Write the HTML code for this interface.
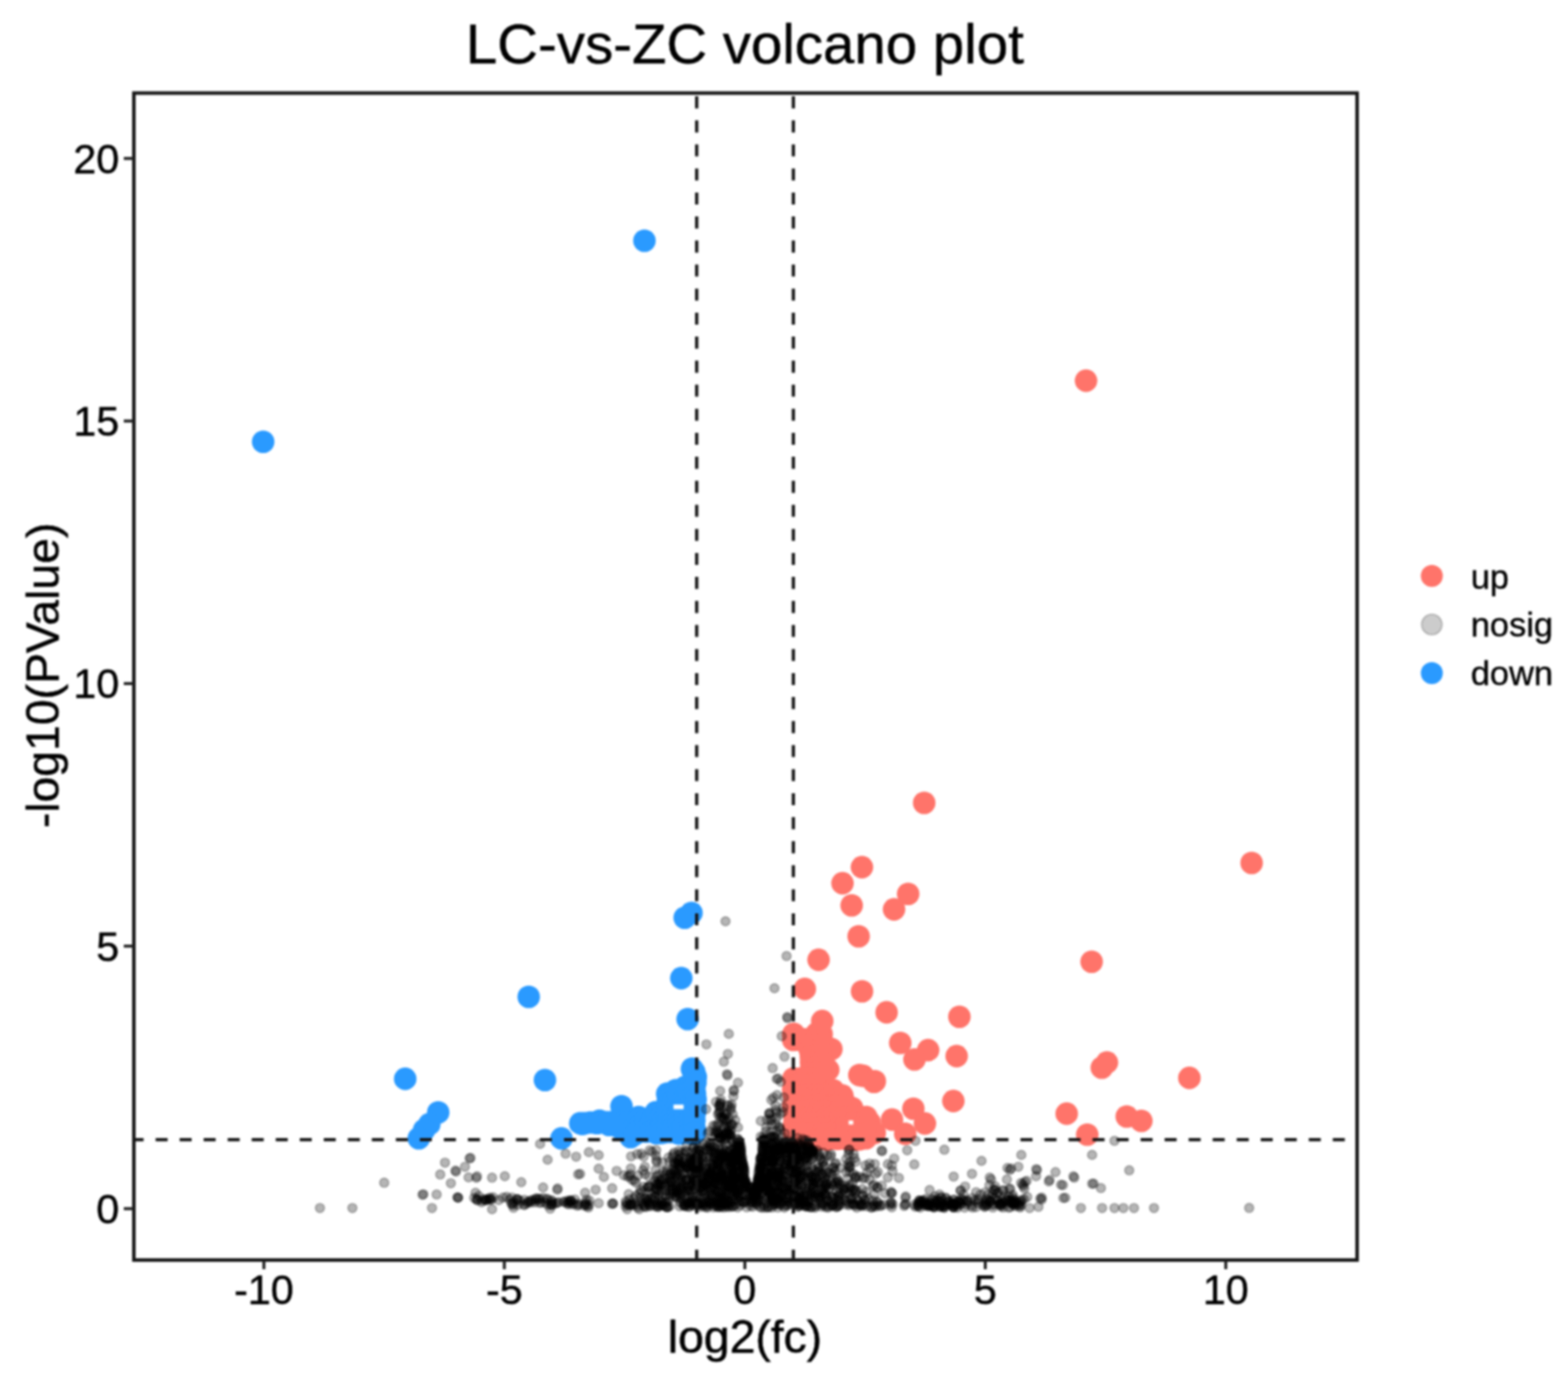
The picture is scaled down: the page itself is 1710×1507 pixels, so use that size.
<!DOCTYPE html>
<html><head><meta charset="utf-8"><title>LC-vs-ZC volcano plot</title>
<style>
html,body{margin:0;padding:0;background:#fff;}
body{width:1710px;height:1507px;overflow:hidden;font-family:"Liberation Sans",Arial,Helvetica,sans-serif;}
svg{display:block;font-family:"Liberation Sans",Arial,Helvetica,sans-serif;}
#w{filter:blur(0.8px);width:1710px;height:1507px;}
</style></head><body>
<div id="w"><svg width="1710" height="1507" viewBox="0 0 1710 1507"><rect width="1710" height="1507" fill="#fff"/><text x="812.3" y="69.3" text-anchor="middle" font-size="61.5" fill="#000" stroke="#000" stroke-width="0.5">LC-vs-ZC volcano plot</text><g fill="#FF746A"><circle cx="1184.4" cy="415.1" r="12.3"/><circle cx="1365.0" cy="941.0" r="12.3"/><circle cx="1007.9" cy="875.5" r="12.3"/><circle cx="940.0" cy="945.6" r="12.3"/><circle cx="918.8" cy="963.1" r="12.3"/><circle cx="928.8" cy="987.2" r="12.3"/><circle cx="990.4" cy="974.8" r="12.3"/><circle cx="975.0" cy="991.6" r="12.3"/><circle cx="936.4" cy="1021.0" r="12.3"/><circle cx="892.7" cy="1046.6" r="12.3"/><circle cx="877.7" cy="1078.4" r="12.3"/><circle cx="940.1" cy="1081.0" r="12.3"/><circle cx="1190.5" cy="1048.7" r="12.3"/><circle cx="896.7" cy="1113.4" r="12.3"/><circle cx="966.9" cy="1103.9" r="12.3"/><circle cx="1046.3" cy="1108.7" r="12.3"/><circle cx="981.8" cy="1137.3" r="12.3"/><circle cx="1012.2" cy="1145.1" r="12.3"/><circle cx="997.3" cy="1155.2" r="12.3"/><circle cx="1043.3" cy="1151.6" r="12.3"/><circle cx="953.1" cy="1179.7" r="12.3"/><circle cx="941.2" cy="1173.1" r="12.3"/><circle cx="1039.7" cy="1200.6" r="12.3"/><circle cx="996.1" cy="1209.0" r="12.3"/><circle cx="1008.7" cy="1225.1" r="12.3"/><circle cx="972.8" cy="1220.9" r="12.3"/><circle cx="987.2" cy="1236.4" r="12.3"/><circle cx="948.4" cy="1228.1" r="12.3"/><circle cx="904.6" cy="1143.3" r="12.3"/><circle cx="885.0" cy="1139.8" r="12.3"/><circle cx="866.0" cy="1128.6" r="12.3"/><circle cx="901.8" cy="1166.5" r="12.3"/><circle cx="866.0" cy="1177.0" r="12.3"/><circle cx="918.0" cy="1196.0" r="12.3"/><circle cx="929.3" cy="1208.3" r="12.3"/><circle cx="948.5" cy="1224.0" r="12.3"/><circle cx="954.0" cy="1235.4" r="12.3"/><circle cx="918.6" cy="1194.6" r="12.3"/><circle cx="928.4" cy="1208.6" r="12.3"/><circle cx="937.2" cy="1172.2" r="12.3"/><circle cx="954.1" cy="1179.0" r="12.3"/><circle cx="1201.6" cy="1164.2" r="12.3"/><circle cx="1207.2" cy="1158.6" r="12.3"/><circle cx="1297.1" cy="1175.4" r="12.3"/><circle cx="1163.3" cy="1214.4" r="12.3"/><circle cx="1185.7" cy="1237.2" r="12.3"/><circle cx="1228.8" cy="1217.5" r="12.3"/><circle cx="1244.7" cy="1222.2" r="12.3"/><circle cx="906.7" cy="1144.0" r="12.3"/><circle cx="903.3" cy="1166.6" r="12.3"/><circle cx="865.0" cy="1128.2" r="12.3"/><circle cx="865.6" cy="1127.3" r="12.3"/><circle cx="890.3" cy="1127.1" r="12.3"/><circle cx="896.1" cy="1127.7" r="12.3"/><circle cx="865.1" cy="1134.0" r="12.3"/><circle cx="871.1" cy="1133.9" r="12.3"/><circle cx="877.1" cy="1133.2" r="12.3"/><circle cx="883.8" cy="1134.7" r="12.3"/><circle cx="889.2" cy="1133.4" r="12.3"/><circle cx="896.3" cy="1134.9" r="12.3"/><circle cx="884.2" cy="1139.8" r="12.3"/><circle cx="891.0" cy="1139.1" r="12.3"/><circle cx="896.7" cy="1139.6" r="12.3"/><circle cx="883.3" cy="1145.2" r="12.3"/><circle cx="889.6" cy="1146.6" r="12.3"/><circle cx="895.4" cy="1146.2" r="12.3"/><circle cx="884.3" cy="1151.7" r="12.3"/><circle cx="890.1" cy="1151.1" r="12.3"/><circle cx="895.1" cy="1151.4" r="12.3"/><circle cx="884.4" cy="1157.9" r="12.3"/><circle cx="889.6" cy="1158.2" r="12.3"/><circle cx="895.9" cy="1157.6" r="12.3"/><circle cx="884.6" cy="1164.4" r="12.3"/><circle cx="889.5" cy="1164.1" r="12.3"/><circle cx="896.1" cy="1164.8" r="12.3"/><circle cx="884.5" cy="1169.6" r="12.3"/><circle cx="891.0" cy="1169.2" r="12.3"/><circle cx="895.8" cy="1170.5" r="12.3"/><circle cx="865.3" cy="1176.0" r="12.3"/><circle cx="871.1" cy="1176.3" r="12.3"/><circle cx="878.5" cy="1176.1" r="12.3"/><circle cx="884.8" cy="1175.6" r="12.3"/><circle cx="890.4" cy="1176.2" r="12.3"/><circle cx="896.2" cy="1175.9" r="12.3"/><circle cx="866.7" cy="1182.9" r="12.3"/><circle cx="871.9" cy="1182.3" r="12.3"/><circle cx="877.1" cy="1182.4" r="12.3"/><circle cx="884.3" cy="1183.0" r="12.3"/><circle cx="890.6" cy="1181.6" r="12.3"/><circle cx="895.8" cy="1182.3" r="12.3"/><circle cx="865.0" cy="1187.9" r="12.3"/><circle cx="871.3" cy="1187.2" r="12.3"/><circle cx="877.1" cy="1188.5" r="12.3"/><circle cx="883.3" cy="1187.5" r="12.3"/><circle cx="889.8" cy="1188.7" r="12.3"/><circle cx="895.2" cy="1187.9" r="12.3"/><circle cx="902.1" cy="1188.8" r="12.3"/><circle cx="908.6" cy="1188.7" r="12.3"/><circle cx="865.6" cy="1193.8" r="12.3"/><circle cx="871.7" cy="1194.8" r="12.3"/><circle cx="878.9" cy="1193.3" r="12.3"/><circle cx="883.4" cy="1193.5" r="12.3"/><circle cx="889.5" cy="1194.0" r="12.3"/><circle cx="896.2" cy="1193.5" r="12.3"/><circle cx="901.0" cy="1193.8" r="12.3"/><circle cx="907.7" cy="1194.1" r="12.3"/><circle cx="866.9" cy="1200.4" r="12.3"/><circle cx="872.0" cy="1200.2" r="12.3"/><circle cx="878.4" cy="1199.1" r="12.3"/><circle cx="884.8" cy="1200.6" r="12.3"/><circle cx="890.7" cy="1200.6" r="12.3"/><circle cx="895.8" cy="1199.8" r="12.3"/><circle cx="901.2" cy="1200.3" r="12.3"/><circle cx="907.1" cy="1199.1" r="12.3"/><circle cx="913.4" cy="1199.3" r="12.3"/><circle cx="919.7" cy="1199.1" r="12.3"/><circle cx="865.0" cy="1205.3" r="12.3"/><circle cx="871.2" cy="1205.7" r="12.3"/><circle cx="877.1" cy="1206.7" r="12.3"/><circle cx="884.2" cy="1205.3" r="12.3"/><circle cx="889.5" cy="1205.7" r="12.3"/><circle cx="895.7" cy="1205.2" r="12.3"/><circle cx="902.7" cy="1207.0" r="12.3"/><circle cx="907.9" cy="1206.0" r="12.3"/><circle cx="913.2" cy="1205.2" r="12.3"/><circle cx="919.7" cy="1205.5" r="12.3"/><circle cx="866.7" cy="1211.3" r="12.3"/><circle cx="871.0" cy="1212.9" r="12.3"/><circle cx="878.1" cy="1211.3" r="12.3"/><circle cx="884.1" cy="1211.1" r="12.3"/><circle cx="890.1" cy="1213.0" r="12.3"/><circle cx="896.7" cy="1212.4" r="12.3"/><circle cx="901.5" cy="1211.7" r="12.3"/><circle cx="907.3" cy="1212.5" r="12.3"/><circle cx="914.1" cy="1212.6" r="12.3"/><circle cx="919.7" cy="1211.4" r="12.3"/><circle cx="866.6" cy="1219.0" r="12.3"/><circle cx="872.7" cy="1218.6" r="12.3"/><circle cx="878.6" cy="1218.5" r="12.3"/><circle cx="883.5" cy="1218.0" r="12.3"/><circle cx="889.7" cy="1217.1" r="12.3"/><circle cx="895.1" cy="1217.6" r="12.3"/><circle cx="901.5" cy="1218.4" r="12.3"/><circle cx="908.9" cy="1217.9" r="12.3"/><circle cx="914.9" cy="1219.0" r="12.3"/><circle cx="920.9" cy="1217.7" r="12.3"/><circle cx="925.4" cy="1217.5" r="12.3"/><circle cx="931.4" cy="1217.4" r="12.3"/><circle cx="938.2" cy="1218.8" r="12.3"/><circle cx="944.7" cy="1218.0" r="12.3"/><circle cx="866.3" cy="1224.6" r="12.3"/><circle cx="871.2" cy="1224.3" r="12.3"/><circle cx="878.8" cy="1224.6" r="12.3"/><circle cx="884.5" cy="1224.0" r="12.3"/><circle cx="889.4" cy="1224.6" r="12.3"/><circle cx="895.7" cy="1224.6" r="12.3"/><circle cx="902.9" cy="1223.8" r="12.3"/><circle cx="907.8" cy="1224.9" r="12.3"/><circle cx="914.4" cy="1223.3" r="12.3"/><circle cx="919.3" cy="1223.3" r="12.3"/><circle cx="926.8" cy="1224.6" r="12.3"/><circle cx="931.3" cy="1224.7" r="12.3"/><circle cx="939.0" cy="1224.3" r="12.3"/><circle cx="943.7" cy="1224.1" r="12.3"/><circle cx="865.3" cy="1229.0" r="12.3"/><circle cx="872.9" cy="1230.3" r="12.3"/><circle cx="878.1" cy="1230.9" r="12.3"/><circle cx="883.9" cy="1230.7" r="12.3"/><circle cx="890.7" cy="1229.4" r="12.3"/><circle cx="895.5" cy="1229.6" r="12.3"/><circle cx="901.5" cy="1230.2" r="12.3"/><circle cx="907.5" cy="1229.8" r="12.3"/><circle cx="913.3" cy="1230.8" r="12.3"/><circle cx="919.7" cy="1229.9" r="12.3"/><circle cx="926.2" cy="1230.8" r="12.3"/><circle cx="931.8" cy="1230.8" r="12.3"/><circle cx="938.0" cy="1230.1" r="12.3"/><circle cx="944.0" cy="1229.0" r="12.3"/><circle cx="865.9" cy="1235.4" r="12.3"/><circle cx="871.0" cy="1236.6" r="12.3"/><circle cx="877.3" cy="1235.9" r="12.3"/><circle cx="884.5" cy="1236.1" r="12.3"/><circle cx="889.7" cy="1236.0" r="12.3"/><circle cx="896.1" cy="1236.6" r="12.3"/><circle cx="901.2" cy="1236.1" r="12.3"/><circle cx="907.5" cy="1235.6" r="12.3"/><circle cx="914.5" cy="1236.0" r="12.3"/><circle cx="920.1" cy="1236.5" r="12.3"/><circle cx="926.8" cy="1235.9" r="12.3"/><circle cx="932.2" cy="1236.0" r="12.3"/><circle cx="938.0" cy="1236.4" r="12.3"/><circle cx="943.9" cy="1236.1" r="12.3"/><circle cx="884.0" cy="1242.9" r="12.3"/><circle cx="890.4" cy="1242.8" r="12.3"/><circle cx="896.9" cy="1241.5" r="12.3"/><circle cx="902.1" cy="1242.9" r="12.3"/><circle cx="908.7" cy="1241.3" r="12.3"/><circle cx="913.2" cy="1241.9" r="12.3"/><circle cx="919.1" cy="1241.5" r="12.3"/><circle cx="925.1" cy="1242.3" r="12.3"/><circle cx="932.6" cy="1242.8" r="12.3"/><circle cx="937.3" cy="1242.4" r="12.3"/><circle cx="944.3" cy="1241.3" r="12.3"/></g><g fill="#2A9AFF"><circle cx="287.0" cy="481.8" r="12.3"/><circle cx="702.8" cy="262.5" r="12.3"/><circle cx="746.7" cy="1000.8" r="12.3"/><circle cx="754.1" cy="995.5" r="12.3"/><circle cx="743.0" cy="1066.6" r="12.3"/><circle cx="749.9" cy="1111.2" r="12.3"/><circle cx="576.6" cy="1087.0" r="12.3"/><circle cx="441.9" cy="1176.4" r="12.3"/><circle cx="594.3" cy="1177.7" r="12.3"/><circle cx="477.9" cy="1213.0" r="12.3"/><circle cx="468.2" cy="1225.9" r="12.3"/><circle cx="462.5" cy="1232.3" r="12.3"/><circle cx="456.7" cy="1241.3" r="12.3"/><circle cx="612.3" cy="1241.4" r="12.3"/><circle cx="635.1" cy="1225.6" r="12.3"/><circle cx="653.8" cy="1222.1" r="12.3"/><circle cx="677.8" cy="1206.3" r="12.3"/><circle cx="664.3" cy="1226.8" r="12.3"/><circle cx="687.7" cy="1240.0" r="12.3"/><circle cx="696.5" cy="1218.0" r="12.3"/><circle cx="676.0" cy="1229.7" r="12.3"/><circle cx="690.6" cy="1235.6" r="12.3"/><circle cx="755.0" cy="1166.5" r="12.3"/><circle cx="736.5" cy="1190.6" r="12.3"/><circle cx="747.6" cy="1185.0" r="12.3"/><circle cx="699.3" cy="1220.4" r="12.3"/><circle cx="713.6" cy="1233.6" r="12.3"/><circle cx="732.3" cy="1228.9" r="12.3"/><circle cx="746.3" cy="1224.2" r="12.3"/><circle cx="751.0" cy="1235.0" r="12.3"/><circle cx="741.6" cy="1236.0" r="12.3"/><circle cx="723.0" cy="1235.0" r="12.3"/><circle cx="737.0" cy="1188.7" r="12.3"/><circle cx="754.7" cy="1165.3" r="12.3"/><circle cx="705.0" cy="1234.0" r="12.3"/><circle cx="700.0" cy="1230.0" r="12.3"/><circle cx="632.8" cy="1224.9" r="12.3"/><circle cx="637.4" cy="1224.9" r="12.3"/><circle cx="643.8" cy="1224.0" r="12.3"/><circle cx="651.0" cy="1224.7" r="12.3"/><circle cx="655.3" cy="1223.9" r="12.3"/><circle cx="662.0" cy="1223.7" r="12.3"/><circle cx="667.4" cy="1223.6" r="12.3"/><circle cx="674.4" cy="1223.0" r="12.3"/><circle cx="680.1" cy="1223.9" r="12.3"/><circle cx="685.0" cy="1223.7" r="12.3"/><circle cx="692.2" cy="1224.0" r="12.3"/><circle cx="691.1" cy="1231.0" r="12.3"/><circle cx="692.6" cy="1236.9" r="12.3"/><circle cx="697.2" cy="1220.5" r="12.3"/><circle cx="697.1" cy="1227.6" r="12.3"/><circle cx="697.5" cy="1232.3" r="12.3"/><circle cx="703.8" cy="1221.8" r="12.3"/><circle cx="704.6" cy="1226.5" r="12.3"/><circle cx="703.3" cy="1233.8" r="12.3"/><circle cx="710.1" cy="1221.4" r="12.3"/><circle cx="709.2" cy="1226.1" r="12.3"/><circle cx="710.4" cy="1232.9" r="12.3"/><circle cx="715.1" cy="1212.9" r="12.3"/><circle cx="716.3" cy="1218.6" r="12.3"/><circle cx="715.2" cy="1224.7" r="12.3"/><circle cx="715.1" cy="1230.7" r="12.3"/><circle cx="715.9" cy="1235.7" r="12.3"/><circle cx="722.1" cy="1212.9" r="12.3"/><circle cx="721.5" cy="1217.3" r="12.3"/><circle cx="722.1" cy="1223.5" r="12.3"/><circle cx="721.2" cy="1229.3" r="12.3"/><circle cx="721.1" cy="1235.4" r="12.3"/><circle cx="727.6" cy="1192.6" r="12.3"/><circle cx="728.5" cy="1198.6" r="12.3"/><circle cx="728.0" cy="1204.4" r="12.3"/><circle cx="727.7" cy="1210.0" r="12.3"/><circle cx="727.5" cy="1216.0" r="12.3"/><circle cx="728.5" cy="1223.1" r="12.3"/><circle cx="727.4" cy="1228.9" r="12.3"/><circle cx="728.9" cy="1234.2" r="12.3"/><circle cx="734.6" cy="1192.9" r="12.3"/><circle cx="734.0" cy="1199.7" r="12.3"/><circle cx="733.8" cy="1205.0" r="12.3"/><circle cx="734.4" cy="1212.0" r="12.3"/><circle cx="733.7" cy="1217.7" r="12.3"/><circle cx="734.4" cy="1223.3" r="12.3"/><circle cx="733.8" cy="1228.7" r="12.3"/><circle cx="733.1" cy="1234.3" r="12.3"/><circle cx="739.1" cy="1193.5" r="12.3"/><circle cx="739.5" cy="1198.3" r="12.3"/><circle cx="739.2" cy="1205.7" r="12.3"/><circle cx="740.7" cy="1211.3" r="12.3"/><circle cx="739.6" cy="1216.5" r="12.3"/><circle cx="739.6" cy="1222.9" r="12.3"/><circle cx="739.3" cy="1228.9" r="12.3"/><circle cx="739.5" cy="1235.9" r="12.3"/><circle cx="746.9" cy="1193.1" r="12.3"/><circle cx="745.5" cy="1199.9" r="12.3"/><circle cx="745.6" cy="1204.7" r="12.3"/><circle cx="745.0" cy="1210.8" r="12.3"/><circle cx="745.9" cy="1217.0" r="12.3"/><circle cx="745.4" cy="1223.0" r="12.3"/><circle cx="745.0" cy="1228.5" r="12.3"/><circle cx="745.2" cy="1234.8" r="12.3"/><circle cx="751.1" cy="1192.0" r="12.3"/><circle cx="751.6" cy="1198.5" r="12.3"/><circle cx="752.2" cy="1205.1" r="12.3"/><circle cx="752.5" cy="1211.3" r="12.3"/><circle cx="752.4" cy="1217.8" r="12.3"/><circle cx="751.8" cy="1222.7" r="12.3"/><circle cx="753.0" cy="1228.3" r="12.3"/><circle cx="752.4" cy="1235.3" r="12.3"/><circle cx="757.1" cy="1168.7" r="12.3"/><circle cx="758.8" cy="1174.3" r="12.3"/><circle cx="758.5" cy="1180.6" r="12.3"/><circle cx="757.3" cy="1186.0" r="12.3"/><circle cx="758.0" cy="1192.7" r="12.3"/><circle cx="758.6" cy="1198.7" r="12.3"/><circle cx="758.2" cy="1204.8" r="12.3"/><circle cx="758.4" cy="1210.4" r="12.3"/><circle cx="757.5" cy="1215.1" r="12.3"/><circle cx="757.3" cy="1221.7" r="12.3"/><circle cx="757.2" cy="1228.7" r="12.3"/><circle cx="758.1" cy="1234.3" r="12.3"/><circle cx="757.0" cy="1236.0" r="12.3"/></g><g fill="#000" fill-opacity="0.29" stroke="#000" stroke-opacity="0.29" stroke-width="1.4"><circle cx="791.2" cy="1004.6" r="4.9"/><circle cx="857.8" cy="1042.5" r="4.9"/><circle cx="844.6" cy="1077.6" r="4.9"/><circle cx="858.8" cy="1110.2" r="4.9"/><circle cx="794.8" cy="1127.4" r="4.9"/><circle cx="770.4" cy="1138.8" r="4.9"/><circle cx="793.8" cy="1149.3" r="4.9"/><circle cx="789.4" cy="1157.7" r="4.9"/><circle cx="793.4" cy="1172.7" r="4.9"/><circle cx="792.8" cy="1171.3" r="4.9"/><circle cx="804.8" cy="1180.6" r="4.9"/><circle cx="800.4" cy="1189.9" r="4.9"/><circle cx="800.1" cy="1188.6" r="4.9"/><circle cx="785.4" cy="1189.6" r="4.9"/><circle cx="799.8" cy="1195.5" r="4.9"/><circle cx="780.9" cy="1201.5" r="4.9"/><circle cx="797.8" cy="1204.5" r="4.9"/><circle cx="789.3" cy="1219.9" r="4.9"/><circle cx="789.3" cy="1218.9" r="4.9"/><circle cx="777.9" cy="1227.4" r="4.9"/><circle cx="801.8" cy="1221.4" r="4.9"/><circle cx="804.8" cy="1229.4" r="4.9"/><circle cx="792.8" cy="1234.3" r="4.9"/><circle cx="770.0" cy="1209.5" r="4.9"/><circle cx="784.8" cy="1239.1" r="4.9"/><circle cx="783.9" cy="1237.4" r="4.9"/><circle cx="772.0" cy="1236.0" r="4.9"/><circle cx="858.5" cy="1109.0" r="4.9"/><circle cx="852.5" cy="1129.9" r="4.9"/><circle cx="855.5" cy="1152.2" r="4.9"/><circle cx="842.6" cy="1164.7" r="4.9"/><circle cx="848.5" cy="1176.1" r="4.9"/><circle cx="847.0" cy="1176.6" r="4.9"/><circle cx="851.5" cy="1179.6" r="4.9"/><circle cx="845.6" cy="1205.5" r="4.9"/><circle cx="854.5" cy="1207.5" r="4.9"/><circle cx="838.7" cy="1214.0" r="4.9"/><circle cx="839.2" cy="1215.2" r="4.9"/><circle cx="829.7" cy="1222.4" r="4.9"/><circle cx="846.6" cy="1219.4" r="4.9"/><circle cx="835.6" cy="1229.4" r="4.9"/><circle cx="849.6" cy="1229.4" r="4.9"/><circle cx="829.7" cy="1239.3" r="4.9"/><circle cx="842.8" cy="1239.5" r="4.9"/><circle cx="841.3" cy="1239.1" r="4.9"/><circle cx="856.0" cy="1236.0" r="4.9"/><circle cx="348.9" cy="1317.3" r="4.9"/><circle cx="384.3" cy="1317.3" r="4.9"/><circle cx="419.0" cy="1289.7" r="4.9"/><circle cx="485.3" cy="1267.8" r="4.9"/><circle cx="512.0" cy="1263.1" r="4.9"/><circle cx="513.2" cy="1262.7" r="4.9"/><circle cx="480.1" cy="1280.7" r="4.9"/><circle cx="497.3" cy="1277.6" r="4.9"/><circle cx="496.7" cy="1276.4" r="4.9"/><circle cx="507.1" cy="1272.3" r="4.9"/><circle cx="491.7" cy="1290.3" r="4.9"/><circle cx="511.0" cy="1283.9" r="4.9"/><circle cx="461.8" cy="1302.3" r="4.9"/><circle cx="460.7" cy="1302.8" r="4.9"/><circle cx="476.2" cy="1302.5" r="4.9"/><circle cx="471.1" cy="1317.3" r="4.9"/><circle cx="499.8" cy="1305.9" r="4.9"/><circle cx="499.5" cy="1306.1" r="4.9"/><circle cx="498.6" cy="1305.6" r="4.9"/><circle cx="519.5" cy="1284.4" r="4.9"/><circle cx="520.2" cy="1282.7" r="4.9"/><circle cx="536.6" cy="1284.2" r="4.9"/><circle cx="550.5" cy="1282.6" r="4.9"/><circle cx="568.5" cy="1289.1" r="4.9"/><circle cx="589.0" cy="1247.4" r="4.9"/><circle cx="597.2" cy="1264.6" r="4.9"/><circle cx="616.8" cy="1258.0" r="4.9"/><circle cx="628.3" cy="1261.3" r="4.9"/><circle cx="642.2" cy="1256.4" r="4.9"/><circle cx="652.9" cy="1259.6" r="4.9"/><circle cx="630.5" cy="1280.5" r="4.9"/><circle cx="632.7" cy="1280.1" r="4.9"/><circle cx="652.9" cy="1274.4" r="4.9"/><circle cx="658.6" cy="1283.4" r="4.9"/><circle cx="672.5" cy="1276.8" r="4.9"/><circle cx="702.0" cy="1261.3" r="4.9"/><circle cx="716.1" cy="1267.0" r="4.9"/><circle cx="715.9" cy="1265.1" r="4.9"/><circle cx="684.5" cy="1283.1" r="4.9"/><circle cx="686.5" cy="1282.5" r="4.9"/><circle cx="518.6" cy="1300.6" r="4.9"/><circle cx="592.3" cy="1294.9" r="4.9"/><circle cx="607.8" cy="1297.4" r="4.9"/><circle cx="608.1" cy="1295.9" r="4.9"/><circle cx="638.1" cy="1300.6" r="4.9"/><circle cx="649.6" cy="1297.3" r="4.9"/><circle cx="652.9" cy="1312.0" r="4.9"/><circle cx="668.8" cy="1312.6" r="4.9"/><circle cx="668.3" cy="1312.1" r="4.9"/><circle cx="667.3" cy="1312.7" r="4.9"/><circle cx="667.6" cy="1295.7" r="4.9"/><circle cx="685.6" cy="1302.2" r="4.9"/><circle cx="688.1" cy="1313.1" r="4.9"/><circle cx="689.3" cy="1314.2" r="4.9"/><circle cx="688.1" cy="1312.7" r="4.9"/><circle cx="684.0" cy="1318.6" r="4.9"/><circle cx="697.1" cy="1318.6" r="4.9"/><circle cx="702.0" cy="1294.0" r="4.9"/><circle cx="718.4" cy="1302.2" r="4.9"/><circle cx="536.6" cy="1318.6" r="4.9"/><circle cx="600.0" cy="1318.0" r="4.9"/><circle cx="560.0" cy="1317.0" r="4.9"/><circle cx="1029.9" cy="1253.7" r="4.9"/><circle cx="1070.4" cy="1265.9" r="4.9"/><circle cx="997.1" cy="1269.7" r="4.9"/><circle cx="989.4" cy="1254.3" r="4.9"/><circle cx="998.4" cy="1244.0" r="4.9"/><circle cx="961.6" cy="1254.5" r="4.9"/><circle cx="961.9" cy="1255.4" r="4.9"/><circle cx="975.2" cy="1263.3" r="4.9"/><circle cx="972.6" cy="1271.0" r="4.9"/><circle cx="980.3" cy="1284.5" r="4.9"/><circle cx="957.0" cy="1295.0" r="4.9"/><circle cx="956.7" cy="1294.9" r="4.9"/><circle cx="954.6" cy="1316.0" r="4.9"/><circle cx="1098.7" cy="1273.6" r="4.9"/><circle cx="926.3" cy="1253.5" r="4.9"/><circle cx="925.6" cy="1254.1" r="4.9"/><circle cx="973.0" cy="1301.1" r="4.9"/><circle cx="971.8" cy="1299.7" r="4.9"/><circle cx="971.9" cy="1301.1" r="4.9"/><circle cx="971.7" cy="1310.9" r="4.9"/><circle cx="971.5" cy="1311.7" r="4.9"/><circle cx="973.6" cy="1312.9" r="4.9"/><circle cx="987.4" cy="1306.2" r="4.9"/><circle cx="987.8" cy="1304.6" r="4.9"/><circle cx="986.0" cy="1315.0" r="4.9"/><circle cx="987.4" cy="1312.9" r="4.9"/><circle cx="987.2" cy="1313.7" r="4.9"/><circle cx="1113.8" cy="1259.4" r="4.9"/><circle cx="1191.0" cy="1259.4" r="4.9"/><circle cx="1215.4" cy="1244.0" r="4.9"/><circle cx="1231.5" cy="1276.2" r="4.9"/><circle cx="1102.7" cy="1274.2" r="4.9"/><circle cx="1101.3" cy="1275.7" r="4.9"/><circle cx="1110.6" cy="1272.3" r="4.9"/><circle cx="1130.1" cy="1274.8" r="4.9"/><circle cx="1130.9" cy="1275.9" r="4.9"/><circle cx="1129.9" cy="1282.6" r="4.9"/><circle cx="1151.1" cy="1278.1" r="4.9"/><circle cx="1143.8" cy="1288.4" r="4.9"/><circle cx="1144.6" cy="1286.6" r="4.9"/><circle cx="1157.1" cy="1291.9" r="4.9"/><circle cx="1159.2" cy="1292.3" r="4.9"/><circle cx="1171.6" cy="1284.2" r="4.9"/><circle cx="1170.6" cy="1282.7" r="4.9"/><circle cx="1192.7" cy="1290.6" r="4.9"/><circle cx="1191.0" cy="1290.8" r="4.9"/><circle cx="1200.6" cy="1295.5" r="4.9"/><circle cx="1159.6" cy="1306.4" r="4.9"/><circle cx="1161.8" cy="1306.1" r="4.9"/><circle cx="1136.1" cy="1305.9" r="4.9"/><circle cx="1134.4" cy="1306.9" r="4.9"/><circle cx="1136.1" cy="1308.1" r="4.9"/><circle cx="1119.6" cy="1287.7" r="4.9"/><circle cx="1122.8" cy="1317.3" r="4.9"/><circle cx="1132.5" cy="1316.0" r="4.9"/><circle cx="1178.8" cy="1317.3" r="4.9"/><circle cx="1201.9" cy="1317.3" r="4.9"/><circle cx="1215.4" cy="1317.3" r="4.9"/><circle cx="1225.1" cy="1317.3" r="4.9"/><circle cx="1236.7" cy="1317.3" r="4.9"/><circle cx="1258.5" cy="1317.3" r="4.9"/><circle cx="1362.3" cy="1317.2" r="4.9"/><circle cx="1040.0" cy="1283.0" r="4.9"/><circle cx="1060.0" cy="1280.0" r="4.9"/><circle cx="1080.9" cy="1286.2" r="4.9"/><circle cx="1079.4" cy="1284.0" r="4.9"/><circle cx="517.1" cy="1306.3" r="4.9"/><circle cx="520.0" cy="1307.2" r="4.9"/><circle cx="520.0" cy="1308.4" r="4.9"/><circle cx="520.5" cy="1308.9" r="4.9"/><circle cx="522.1" cy="1304.2" r="4.9"/><circle cx="525.7" cy="1309.0" r="4.9"/><circle cx="525.2" cy="1311.0" r="4.9"/><circle cx="527.7" cy="1307.4" r="4.9"/><circle cx="530.0" cy="1308.3" r="4.9"/><circle cx="532.5" cy="1307.5" r="4.9"/><circle cx="530.1" cy="1308.9" r="4.9"/><circle cx="530.4" cy="1308.6" r="4.9"/><circle cx="534.7" cy="1307.8" r="4.9"/><circle cx="534.1" cy="1307.6" r="4.9"/><circle cx="534.3" cy="1305.8" r="4.9"/><circle cx="535.8" cy="1308.3" r="4.9"/><circle cx="537.9" cy="1305.7" r="4.9"/><circle cx="544.0" cy="1308.6" r="4.9"/><circle cx="548.6" cy="1305.9" r="4.9"/><circle cx="552.6" cy="1305.2" r="4.9"/><circle cx="555.9" cy="1308.3" r="4.9"/><circle cx="558.2" cy="1305.8" r="4.9"/><circle cx="557.9" cy="1312.7" r="4.9"/><circle cx="558.1" cy="1312.2" r="4.9"/><circle cx="559.6" cy="1314.0" r="4.9"/><circle cx="560.6" cy="1311.0" r="4.9"/><circle cx="564.3" cy="1307.5" r="4.9"/><circle cx="564.2" cy="1307.6" r="4.9"/><circle cx="563.5" cy="1308.0" r="4.9"/><circle cx="564.9" cy="1313.7" r="4.9"/><circle cx="567.1" cy="1309.5" r="4.9"/><circle cx="571.8" cy="1308.3" r="4.9"/><circle cx="571.4" cy="1313.9" r="4.9"/><circle cx="574.9" cy="1312.4" r="4.9"/><circle cx="572.2" cy="1313.8" r="4.9"/><circle cx="576.9" cy="1310.5" r="4.9"/><circle cx="575.5" cy="1310.4" r="4.9"/><circle cx="580.5" cy="1308.5" r="4.9"/><circle cx="578.7" cy="1309.2" r="4.9"/><circle cx="579.2" cy="1311.4" r="4.9"/><circle cx="583.7" cy="1308.1" r="4.9"/><circle cx="583.3" cy="1311.1" r="4.9"/><circle cx="584.4" cy="1306.8" r="4.9"/><circle cx="585.7" cy="1306.9" r="4.9"/><circle cx="588.3" cy="1307.0" r="4.9"/><circle cx="588.3" cy="1308.1" r="4.9"/><circle cx="588.5" cy="1311.7" r="4.9"/><circle cx="592.3" cy="1306.4" r="4.9"/><circle cx="590.3" cy="1311.4" r="4.9"/><circle cx="594.5" cy="1311.1" r="4.9"/><circle cx="596.2" cy="1307.2" r="4.9"/><circle cx="597.5" cy="1308.2" r="4.9"/><circle cx="597.1" cy="1313.9" r="4.9"/><circle cx="602.0" cy="1310.2" r="4.9"/><circle cx="601.4" cy="1308.6" r="4.9"/><circle cx="600.5" cy="1313.9" r="4.9"/><circle cx="601.7" cy="1311.5" r="4.9"/><circle cx="601.4" cy="1313.8" r="4.9"/><circle cx="602.5" cy="1313.7" r="4.9"/><circle cx="605.4" cy="1312.5" r="4.9"/><circle cx="607.8" cy="1311.6" r="4.9"/><circle cx="609.0" cy="1311.1" r="4.9"/><circle cx="616.0" cy="1310.7" r="4.9"/><circle cx="614.5" cy="1310.4" r="4.9"/><circle cx="618.9" cy="1309.1" r="4.9"/><circle cx="618.7" cy="1312.7" r="4.9"/><circle cx="619.6" cy="1311.3" r="4.9"/><circle cx="621.9" cy="1309.2" r="4.9"/><circle cx="622.4" cy="1308.8" r="4.9"/><circle cx="623.0" cy="1309.7" r="4.9"/><circle cx="621.1" cy="1310.3" r="4.9"/><circle cx="620.5" cy="1313.2" r="4.9"/><circle cx="623.8" cy="1312.9" r="4.9"/><circle cx="626.0" cy="1312.8" r="4.9"/><circle cx="626.9" cy="1308.0" r="4.9"/><circle cx="630.3" cy="1312.5" r="4.9"/><circle cx="629.4" cy="1314.7" r="4.9"/><circle cx="631.0" cy="1314.1" r="4.9"/><circle cx="636.8" cy="1314.6" r="4.9"/><circle cx="639.4" cy="1308.4" r="4.9"/><circle cx="638.7" cy="1311.4" r="4.9"/><circle cx="638.3" cy="1312.9" r="4.9"/><circle cx="640.3" cy="1315.2" r="4.9"/><circle cx="638.8" cy="1314.0" r="4.9"/><circle cx="642.7" cy="1309.1" r="4.9"/><circle cx="642.3" cy="1313.8" r="4.9"/><circle cx="641.7" cy="1316.7" r="4.9"/><circle cx="680.4" cy="1281.6" r="4.9"/><circle cx="682.3" cy="1310.1" r="4.9"/><circle cx="682.2" cy="1315.4" r="4.9"/><circle cx="683.7" cy="1313.6" r="4.9"/><circle cx="683.0" cy="1311.8" r="4.9"/><circle cx="688.2" cy="1261.0" r="4.9"/><circle cx="687.9" cy="1274.1" r="4.9"/><circle cx="687.4" cy="1280.5" r="4.9"/><circle cx="686.4" cy="1308.1" r="4.9"/><circle cx="687.0" cy="1314.4" r="4.9"/><circle cx="686.1" cy="1314.1" r="4.9"/><circle cx="689.2" cy="1286.6" r="4.9"/><circle cx="691.8" cy="1287.3" r="4.9"/><circle cx="691.5" cy="1306.9" r="4.9"/><circle cx="693.5" cy="1289.6" r="4.9"/><circle cx="693.0" cy="1304.1" r="4.9"/><circle cx="692.3" cy="1313.5" r="4.9"/><circle cx="692.5" cy="1311.0" r="4.9"/><circle cx="695.0" cy="1258.5" r="4.9"/><circle cx="695.9" cy="1281.6" r="4.9"/><circle cx="697.1" cy="1301.4" r="4.9"/><circle cx="695.3" cy="1316.7" r="4.9"/><circle cx="695.1" cy="1314.6" r="4.9"/><circle cx="699.5" cy="1258.1" r="4.9"/><circle cx="698.5" cy="1297.3" r="4.9"/><circle cx="699.7" cy="1299.4" r="4.9"/><circle cx="698.7" cy="1305.6" r="4.9"/><circle cx="700.5" cy="1311.5" r="4.9"/><circle cx="703.2" cy="1272.3" r="4.9"/><circle cx="701.3" cy="1276.2" r="4.9"/><circle cx="703.4" cy="1280.2" r="4.9"/><circle cx="703.1" cy="1306.5" r="4.9"/><circle cx="702.4" cy="1308.4" r="4.9"/><circle cx="702.2" cy="1313.2" r="4.9"/><circle cx="702.3" cy="1315.7" r="4.9"/><circle cx="703.2" cy="1315.3" r="4.9"/><circle cx="706.1" cy="1294.9" r="4.9"/><circle cx="705.2" cy="1307.0" r="4.9"/><circle cx="704.5" cy="1310.0" r="4.9"/><circle cx="706.3" cy="1309.2" r="4.9"/><circle cx="706.9" cy="1311.1" r="4.9"/><circle cx="704.5" cy="1316.3" r="4.9"/><circle cx="708.6" cy="1254.3" r="4.9"/><circle cx="707.6" cy="1283.1" r="4.9"/><circle cx="708.1" cy="1293.2" r="4.9"/><circle cx="707.8" cy="1294.2" r="4.9"/><circle cx="707.0" cy="1294.3" r="4.9"/><circle cx="708.1" cy="1299.8" r="4.9"/><circle cx="709.8" cy="1306.6" r="4.9"/><circle cx="708.2" cy="1311.6" r="4.9"/><circle cx="707.4" cy="1313.3" r="4.9"/><circle cx="708.9" cy="1315.4" r="4.9"/><circle cx="708.7" cy="1314.7" r="4.9"/><circle cx="711.1" cy="1255.9" r="4.9"/><circle cx="710.8" cy="1302.7" r="4.9"/><circle cx="711.9" cy="1313.0" r="4.9"/><circle cx="715.6" cy="1254.2" r="4.9"/><circle cx="715.4" cy="1260.4" r="4.9"/><circle cx="715.0" cy="1275.8" r="4.9"/><circle cx="714.0" cy="1287.5" r="4.9"/><circle cx="715.4" cy="1290.5" r="4.9"/><circle cx="715.7" cy="1291.8" r="4.9"/><circle cx="715.0" cy="1295.7" r="4.9"/><circle cx="715.5" cy="1296.6" r="4.9"/><circle cx="714.6" cy="1301.2" r="4.9"/><circle cx="714.7" cy="1305.8" r="4.9"/><circle cx="713.7" cy="1305.4" r="4.9"/><circle cx="713.2" cy="1309.4" r="4.9"/><circle cx="714.5" cy="1315.6" r="4.9"/><circle cx="716.2" cy="1282.9" r="4.9"/><circle cx="717.9" cy="1281.1" r="4.9"/><circle cx="718.0" cy="1286.8" r="4.9"/><circle cx="717.5" cy="1291.5" r="4.9"/><circle cx="718.7" cy="1290.1" r="4.9"/><circle cx="718.2" cy="1291.9" r="4.9"/><circle cx="717.1" cy="1297.4" r="4.9"/><circle cx="717.6" cy="1298.3" r="4.9"/><circle cx="718.5" cy="1308.9" r="4.9"/><circle cx="717.2" cy="1312.5" r="4.9"/><circle cx="716.8" cy="1312.5" r="4.9"/><circle cx="718.0" cy="1316.4" r="4.9"/><circle cx="717.0" cy="1315.0" r="4.9"/><circle cx="716.9" cy="1315.8" r="4.9"/><circle cx="720.8" cy="1286.0" r="4.9"/><circle cx="721.4" cy="1286.7" r="4.9"/><circle cx="720.9" cy="1288.9" r="4.9"/><circle cx="720.8" cy="1292.0" r="4.9"/><circle cx="720.4" cy="1298.3" r="4.9"/><circle cx="721.7" cy="1310.0" r="4.9"/><circle cx="721.5" cy="1313.4" r="4.9"/><circle cx="719.8" cy="1314.9" r="4.9"/><circle cx="722.2" cy="1267.7" r="4.9"/><circle cx="723.7" cy="1277.8" r="4.9"/><circle cx="724.8" cy="1289.9" r="4.9"/><circle cx="722.6" cy="1299.5" r="4.9"/><circle cx="722.4" cy="1310.9" r="4.9"/><circle cx="722.4" cy="1314.1" r="4.9"/><circle cx="724.2" cy="1314.7" r="4.9"/><circle cx="727.1" cy="1276.4" r="4.9"/><circle cx="725.8" cy="1280.9" r="4.9"/><circle cx="727.2" cy="1278.0" r="4.9"/><circle cx="727.5" cy="1284.2" r="4.9"/><circle cx="725.5" cy="1292.6" r="4.9"/><circle cx="725.2" cy="1294.1" r="4.9"/><circle cx="726.3" cy="1298.0" r="4.9"/><circle cx="726.1" cy="1303.9" r="4.9"/><circle cx="726.3" cy="1306.2" r="4.9"/><circle cx="727.8" cy="1310.4" r="4.9"/><circle cx="725.9" cy="1311.2" r="4.9"/><circle cx="727.1" cy="1316.5" r="4.9"/><circle cx="726.0" cy="1315.8" r="4.9"/><circle cx="727.9" cy="1316.5" r="4.9"/><circle cx="729.1" cy="1262.1" r="4.9"/><circle cx="730.4" cy="1266.8" r="4.9"/><circle cx="730.4" cy="1280.7" r="4.9"/><circle cx="730.4" cy="1286.6" r="4.9"/><circle cx="728.8" cy="1289.6" r="4.9"/><circle cx="730.1" cy="1292.7" r="4.9"/><circle cx="730.4" cy="1299.6" r="4.9"/><circle cx="730.8" cy="1302.7" r="4.9"/><circle cx="730.0" cy="1306.4" r="4.9"/><circle cx="730.4" cy="1315.4" r="4.9"/><circle cx="728.3" cy="1316.4" r="4.9"/><circle cx="733.7" cy="1261.6" r="4.9"/><circle cx="732.1" cy="1279.7" r="4.9"/><circle cx="731.4" cy="1284.1" r="4.9"/><circle cx="732.1" cy="1287.3" r="4.9"/><circle cx="732.9" cy="1289.4" r="4.9"/><circle cx="731.5" cy="1288.8" r="4.9"/><circle cx="732.0" cy="1288.6" r="4.9"/><circle cx="733.6" cy="1297.5" r="4.9"/><circle cx="732.7" cy="1296.8" r="4.9"/><circle cx="733.3" cy="1297.3" r="4.9"/><circle cx="733.3" cy="1301.5" r="4.9"/><circle cx="733.9" cy="1299.8" r="4.9"/><circle cx="735.4" cy="1256.8" r="4.9"/><circle cx="734.2" cy="1258.8" r="4.9"/><circle cx="734.8" cy="1267.7" r="4.9"/><circle cx="735.9" cy="1268.9" r="4.9"/><circle cx="735.2" cy="1270.3" r="4.9"/><circle cx="737.0" cy="1275.7" r="4.9"/><circle cx="734.1" cy="1275.8" r="4.9"/><circle cx="735.1" cy="1277.7" r="4.9"/><circle cx="736.5" cy="1278.1" r="4.9"/><circle cx="736.4" cy="1280.1" r="4.9"/><circle cx="737.0" cy="1281.2" r="4.9"/><circle cx="736.8" cy="1289.0" r="4.9"/><circle cx="736.3" cy="1293.3" r="4.9"/><circle cx="737.7" cy="1268.8" r="4.9"/><circle cx="739.6" cy="1268.7" r="4.9"/><circle cx="739.5" cy="1279.9" r="4.9"/><circle cx="738.4" cy="1279.0" r="4.9"/><circle cx="738.4" cy="1282.9" r="4.9"/><circle cx="738.7" cy="1293.4" r="4.9"/><circle cx="737.8" cy="1297.2" r="4.9"/><circle cx="737.5" cy="1296.8" r="4.9"/><circle cx="738.0" cy="1299.5" r="4.9"/><circle cx="738.5" cy="1300.0" r="4.9"/><circle cx="737.3" cy="1304.9" r="4.9"/><circle cx="737.2" cy="1304.7" r="4.9"/><circle cx="737.6" cy="1306.4" r="4.9"/><circle cx="743.0" cy="1256.8" r="4.9"/><circle cx="740.3" cy="1254.9" r="4.9"/><circle cx="740.2" cy="1259.2" r="4.9"/><circle cx="740.0" cy="1265.4" r="4.9"/><circle cx="741.0" cy="1263.4" r="4.9"/><circle cx="740.0" cy="1265.5" r="4.9"/><circle cx="740.6" cy="1267.3" r="4.9"/><circle cx="740.7" cy="1270.7" r="4.9"/><circle cx="740.4" cy="1269.5" r="4.9"/><circle cx="742.1" cy="1272.6" r="4.9"/><circle cx="741.5" cy="1281.8" r="4.9"/><circle cx="742.1" cy="1289.4" r="4.9"/><circle cx="740.6" cy="1290.2" r="4.9"/><circle cx="741.2" cy="1295.2" r="4.9"/><circle cx="741.0" cy="1301.5" r="4.9"/><circle cx="741.5" cy="1302.0" r="4.9"/><circle cx="742.7" cy="1303.4" r="4.9"/><circle cx="740.8" cy="1305.6" r="4.9"/><circle cx="742.5" cy="1306.1" r="4.9"/><circle cx="741.8" cy="1311.0" r="4.9"/><circle cx="741.3" cy="1315.5" r="4.9"/><circle cx="745.6" cy="1258.0" r="4.9"/><circle cx="744.1" cy="1262.3" r="4.9"/><circle cx="745.9" cy="1267.5" r="4.9"/><circle cx="744.5" cy="1267.6" r="4.9"/><circle cx="743.1" cy="1271.9" r="4.9"/><circle cx="743.1" cy="1284.3" r="4.9"/><circle cx="743.6" cy="1287.1" r="4.9"/><circle cx="744.7" cy="1291.6" r="4.9"/><circle cx="743.3" cy="1295.6" r="4.9"/><circle cx="743.1" cy="1296.4" r="4.9"/><circle cx="744.5" cy="1299.8" r="4.9"/><circle cx="745.6" cy="1311.4" r="4.9"/><circle cx="745.2" cy="1314.5" r="4.9"/><circle cx="748.8" cy="1249.2" r="4.9"/><circle cx="747.6" cy="1255.2" r="4.9"/><circle cx="748.8" cy="1256.3" r="4.9"/><circle cx="748.4" cy="1271.7" r="4.9"/><circle cx="748.4" cy="1271.5" r="4.9"/><circle cx="746.2" cy="1270.6" r="4.9"/><circle cx="748.8" cy="1272.7" r="4.9"/><circle cx="747.3" cy="1273.9" r="4.9"/><circle cx="746.2" cy="1279.3" r="4.9"/><circle cx="746.1" cy="1281.4" r="4.9"/><circle cx="748.3" cy="1286.8" r="4.9"/><circle cx="747.9" cy="1286.4" r="4.9"/><circle cx="748.7" cy="1286.7" r="4.9"/><circle cx="746.8" cy="1292.0" r="4.9"/><circle cx="748.8" cy="1297.9" r="4.9"/><circle cx="747.3" cy="1304.9" r="4.9"/><circle cx="746.4" cy="1312.8" r="4.9"/><circle cx="747.5" cy="1314.8" r="4.9"/><circle cx="747.4" cy="1315.6" r="4.9"/><circle cx="746.4" cy="1314.4" r="4.9"/><circle cx="751.5" cy="1267.8" r="4.9"/><circle cx="751.0" cy="1269.6" r="4.9"/><circle cx="750.4" cy="1273.6" r="4.9"/><circle cx="750.4" cy="1275.9" r="4.9"/><circle cx="750.1" cy="1285.8" r="4.9"/><circle cx="749.7" cy="1294.7" r="4.9"/><circle cx="750.5" cy="1293.9" r="4.9"/><circle cx="749.9" cy="1298.3" r="4.9"/><circle cx="749.5" cy="1296.2" r="4.9"/><circle cx="751.6" cy="1297.3" r="4.9"/><circle cx="749.3" cy="1308.7" r="4.9"/><circle cx="751.2" cy="1311.5" r="4.9"/><circle cx="750.0" cy="1312.1" r="4.9"/><circle cx="751.0" cy="1312.8" r="4.9"/><circle cx="751.5" cy="1315.6" r="4.9"/><circle cx="751.2" cy="1316.2" r="4.9"/><circle cx="754.1" cy="1256.7" r="4.9"/><circle cx="752.0" cy="1262.3" r="4.9"/><circle cx="753.8" cy="1261.5" r="4.9"/><circle cx="753.7" cy="1264.3" r="4.9"/><circle cx="754.4" cy="1265.6" r="4.9"/><circle cx="753.8" cy="1264.1" r="4.9"/><circle cx="752.9" cy="1273.2" r="4.9"/><circle cx="753.2" cy="1276.0" r="4.9"/><circle cx="754.5" cy="1279.5" r="4.9"/><circle cx="753.7" cy="1293.3" r="4.9"/><circle cx="753.0" cy="1298.5" r="4.9"/><circle cx="754.5" cy="1298.9" r="4.9"/><circle cx="752.0" cy="1305.1" r="4.9"/><circle cx="753.7" cy="1306.5" r="4.9"/><circle cx="754.3" cy="1309.6" r="4.9"/><circle cx="755.0" cy="1309.6" r="4.9"/><circle cx="754.1" cy="1312.2" r="4.9"/><circle cx="756.1" cy="1250.8" r="4.9"/><circle cx="756.6" cy="1251.3" r="4.9"/><circle cx="756.7" cy="1262.6" r="4.9"/><circle cx="756.5" cy="1264.3" r="4.9"/><circle cx="756.9" cy="1266.0" r="4.9"/><circle cx="756.0" cy="1264.6" r="4.9"/><circle cx="755.5" cy="1267.0" r="4.9"/><circle cx="757.5" cy="1270.5" r="4.9"/><circle cx="755.3" cy="1271.7" r="4.9"/><circle cx="757.1" cy="1271.5" r="4.9"/><circle cx="757.7" cy="1273.3" r="4.9"/><circle cx="755.5" cy="1272.9" r="4.9"/><circle cx="756.5" cy="1273.5" r="4.9"/><circle cx="756.8" cy="1282.1" r="4.9"/><circle cx="756.9" cy="1284.1" r="4.9"/><circle cx="756.2" cy="1286.4" r="4.9"/><circle cx="755.9" cy="1286.1" r="4.9"/><circle cx="755.0" cy="1284.9" r="4.9"/><circle cx="756.8" cy="1289.0" r="4.9"/><circle cx="755.6" cy="1288.5" r="4.9"/><circle cx="755.8" cy="1291.9" r="4.9"/><circle cx="758.0" cy="1294.7" r="4.9"/><circle cx="755.3" cy="1305.3" r="4.9"/><circle cx="757.5" cy="1312.8" r="4.9"/><circle cx="755.2" cy="1314.0" r="4.9"/><circle cx="757.3" cy="1315.0" r="4.9"/><circle cx="759.1" cy="1245.5" r="4.9"/><circle cx="759.7" cy="1255.0" r="4.9"/><circle cx="759.3" cy="1255.2" r="4.9"/><circle cx="759.7" cy="1262.9" r="4.9"/><circle cx="759.3" cy="1261.9" r="4.9"/><circle cx="760.6" cy="1269.9" r="4.9"/><circle cx="760.7" cy="1271.4" r="4.9"/><circle cx="758.9" cy="1270.8" r="4.9"/><circle cx="759.5" cy="1274.8" r="4.9"/><circle cx="758.7" cy="1273.2" r="4.9"/><circle cx="760.2" cy="1272.7" r="4.9"/><circle cx="759.5" cy="1280.4" r="4.9"/><circle cx="758.7" cy="1278.5" r="4.9"/><circle cx="758.9" cy="1288.7" r="4.9"/><circle cx="758.3" cy="1288.6" r="4.9"/><circle cx="759.2" cy="1288.2" r="4.9"/><circle cx="759.1" cy="1296.7" r="4.9"/><circle cx="758.6" cy="1296.9" r="4.9"/><circle cx="759.0" cy="1305.5" r="4.9"/><circle cx="758.3" cy="1308.8" r="4.9"/><circle cx="758.4" cy="1312.3" r="4.9"/><circle cx="760.5" cy="1313.4" r="4.9"/><circle cx="762.1" cy="1250.9" r="4.9"/><circle cx="762.5" cy="1254.7" r="4.9"/><circle cx="762.4" cy="1254.4" r="4.9"/><circle cx="763.1" cy="1254.8" r="4.9"/><circle cx="762.8" cy="1258.1" r="4.9"/><circle cx="761.7" cy="1258.8" r="4.9"/><circle cx="761.4" cy="1264.5" r="4.9"/><circle cx="762.6" cy="1263.8" r="4.9"/><circle cx="762.2" cy="1268.0" r="4.9"/><circle cx="762.7" cy="1266.9" r="4.9"/><circle cx="761.3" cy="1269.5" r="4.9"/><circle cx="762.0" cy="1274.0" r="4.9"/><circle cx="761.3" cy="1273.7" r="4.9"/><circle cx="761.9" cy="1278.2" r="4.9"/><circle cx="761.8" cy="1291.2" r="4.9"/><circle cx="763.3" cy="1295.6" r="4.9"/><circle cx="763.6" cy="1293.4" r="4.9"/><circle cx="763.0" cy="1303.1" r="4.9"/><circle cx="763.0" cy="1307.1" r="4.9"/><circle cx="762.1" cy="1312.9" r="4.9"/><circle cx="761.5" cy="1311.3" r="4.9"/><circle cx="763.2" cy="1316.1" r="4.9"/><circle cx="761.1" cy="1314.1" r="4.9"/><circle cx="761.5" cy="1314.6" r="4.9"/><circle cx="764.5" cy="1259.5" r="4.9"/><circle cx="766.1" cy="1260.8" r="4.9"/><circle cx="766.1" cy="1264.0" r="4.9"/><circle cx="766.3" cy="1269.9" r="4.9"/><circle cx="764.1" cy="1271.6" r="4.9"/><circle cx="764.1" cy="1272.7" r="4.9"/><circle cx="764.6" cy="1280.7" r="4.9"/><circle cx="766.2" cy="1278.3" r="4.9"/><circle cx="765.2" cy="1283.2" r="4.9"/><circle cx="764.8" cy="1284.3" r="4.9"/><circle cx="766.8" cy="1285.3" r="4.9"/><circle cx="766.1" cy="1289.2" r="4.9"/><circle cx="766.5" cy="1288.9" r="4.9"/><circle cx="765.4" cy="1287.2" r="4.9"/><circle cx="765.3" cy="1291.5" r="4.9"/><circle cx="764.4" cy="1295.3" r="4.9"/><circle cx="764.1" cy="1295.1" r="4.9"/><circle cx="766.4" cy="1293.8" r="4.9"/><circle cx="766.9" cy="1297.9" r="4.9"/><circle cx="764.7" cy="1299.2" r="4.9"/><circle cx="764.6" cy="1305.9" r="4.9"/><circle cx="766.0" cy="1311.7" r="4.9"/><circle cx="764.7" cy="1312.5" r="4.9"/><circle cx="766.8" cy="1315.1" r="4.9"/><circle cx="767.5" cy="1247.0" r="4.9"/><circle cx="769.3" cy="1253.5" r="4.9"/><circle cx="768.3" cy="1275.3" r="4.9"/><circle cx="768.1" cy="1281.5" r="4.9"/><circle cx="769.3" cy="1290.3" r="4.9"/><circle cx="769.2" cy="1292.9" r="4.9"/><circle cx="768.7" cy="1290.3" r="4.9"/><circle cx="768.5" cy="1291.3" r="4.9"/><circle cx="767.0" cy="1298.8" r="4.9"/><circle cx="768.9" cy="1301.8" r="4.9"/><circle cx="767.8" cy="1302.7" r="4.9"/><circle cx="769.5" cy="1311.9" r="4.9"/><circle cx="767.6" cy="1312.9" r="4.9"/><circle cx="769.8" cy="1314.5" r="4.9"/><circle cx="769.4" cy="1316.5" r="4.9"/><circle cx="770.7" cy="1245.1" r="4.9"/><circle cx="771.9" cy="1250.5" r="4.9"/><circle cx="772.7" cy="1253.8" r="4.9"/><circle cx="771.5" cy="1254.5" r="4.9"/><circle cx="770.2" cy="1262.1" r="4.9"/><circle cx="772.9" cy="1266.3" r="4.9"/><circle cx="770.6" cy="1274.2" r="4.9"/><circle cx="772.6" cy="1280.4" r="4.9"/><circle cx="771.3" cy="1278.8" r="4.9"/><circle cx="771.5" cy="1282.3" r="4.9"/><circle cx="772.0" cy="1289.5" r="4.9"/><circle cx="770.5" cy="1290.9" r="4.9"/><circle cx="771.3" cy="1291.7" r="4.9"/><circle cx="772.9" cy="1307.7" r="4.9"/><circle cx="772.9" cy="1310.9" r="4.9"/><circle cx="771.9" cy="1310.4" r="4.9"/><circle cx="771.8" cy="1314.9" r="4.9"/><circle cx="771.7" cy="1316.9" r="4.9"/><circle cx="773.1" cy="1233.6" r="4.9"/><circle cx="774.1" cy="1246.7" r="4.9"/><circle cx="774.6" cy="1249.7" r="4.9"/><circle cx="773.3" cy="1251.5" r="4.9"/><circle cx="774.6" cy="1254.3" r="4.9"/><circle cx="775.6" cy="1254.8" r="4.9"/><circle cx="773.8" cy="1261.5" r="4.9"/><circle cx="773.7" cy="1264.7" r="4.9"/><circle cx="774.8" cy="1269.2" r="4.9"/><circle cx="773.2" cy="1273.3" r="4.9"/><circle cx="774.7" cy="1277.1" r="4.9"/><circle cx="775.3" cy="1275.3" r="4.9"/><circle cx="775.2" cy="1278.3" r="4.9"/><circle cx="775.5" cy="1279.2" r="4.9"/><circle cx="773.5" cy="1280.9" r="4.9"/><circle cx="774.7" cy="1280.3" r="4.9"/><circle cx="773.2" cy="1284.7" r="4.9"/><circle cx="774.1" cy="1284.0" r="4.9"/><circle cx="773.6" cy="1287.9" r="4.9"/><circle cx="774.3" cy="1292.7" r="4.9"/><circle cx="775.6" cy="1294.7" r="4.9"/><circle cx="775.6" cy="1296.5" r="4.9"/><circle cx="775.2" cy="1297.0" r="4.9"/><circle cx="775.0" cy="1301.5" r="4.9"/><circle cx="773.4" cy="1300.1" r="4.9"/><circle cx="775.8" cy="1304.2" r="4.9"/><circle cx="773.1" cy="1303.8" r="4.9"/><circle cx="775.4" cy="1308.3" r="4.9"/><circle cx="775.0" cy="1311.8" r="4.9"/><circle cx="773.6" cy="1312.3" r="4.9"/><circle cx="775.5" cy="1312.7" r="4.9"/><circle cx="777.6" cy="1250.1" r="4.9"/><circle cx="778.4" cy="1250.8" r="4.9"/><circle cx="778.6" cy="1262.4" r="4.9"/><circle cx="778.0" cy="1270.2" r="4.9"/><circle cx="777.4" cy="1269.5" r="4.9"/><circle cx="777.2" cy="1274.6" r="4.9"/><circle cx="777.8" cy="1272.2" r="4.9"/><circle cx="777.8" cy="1281.1" r="4.9"/><circle cx="776.5" cy="1282.1" r="4.9"/><circle cx="777.7" cy="1285.2" r="4.9"/><circle cx="777.0" cy="1293.1" r="4.9"/><circle cx="779.0" cy="1296.1" r="4.9"/><circle cx="776.8" cy="1302.8" r="4.9"/><circle cx="776.8" cy="1306.7" r="4.9"/><circle cx="778.9" cy="1311.0" r="4.9"/><circle cx="778.3" cy="1316.6" r="4.9"/><circle cx="780.1" cy="1227.8" r="4.9"/><circle cx="781.6" cy="1232.8" r="4.9"/><circle cx="779.9" cy="1235.3" r="4.9"/><circle cx="780.5" cy="1237.9" r="4.9"/><circle cx="780.4" cy="1258.1" r="4.9"/><circle cx="779.7" cy="1257.7" r="4.9"/><circle cx="780.0" cy="1257.4" r="4.9"/><circle cx="779.0" cy="1259.6" r="4.9"/><circle cx="780.3" cy="1261.7" r="4.9"/><circle cx="780.7" cy="1280.8" r="4.9"/><circle cx="780.8" cy="1284.2" r="4.9"/><circle cx="779.5" cy="1285.7" r="4.9"/><circle cx="782.0" cy="1285.1" r="4.9"/><circle cx="780.3" cy="1289.6" r="4.9"/><circle cx="779.2" cy="1288.5" r="4.9"/><circle cx="779.8" cy="1290.8" r="4.9"/><circle cx="779.1" cy="1290.5" r="4.9"/><circle cx="779.7" cy="1297.2" r="4.9"/><circle cx="781.6" cy="1303.9" r="4.9"/><circle cx="781.9" cy="1309.8" r="4.9"/><circle cx="781.6" cy="1315.0" r="4.9"/><circle cx="779.4" cy="1314.6" r="4.9"/><circle cx="783.9" cy="1205.8" r="4.9"/><circle cx="783.9" cy="1213.2" r="4.9"/><circle cx="783.0" cy="1215.2" r="4.9"/><circle cx="783.0" cy="1225.5" r="4.9"/><circle cx="782.8" cy="1228.4" r="4.9"/><circle cx="783.7" cy="1236.0" r="4.9"/><circle cx="782.2" cy="1234.8" r="4.9"/><circle cx="783.0" cy="1236.3" r="4.9"/><circle cx="782.3" cy="1247.4" r="4.9"/><circle cx="783.6" cy="1249.8" r="4.9"/><circle cx="784.0" cy="1252.8" r="4.9"/><circle cx="782.8" cy="1259.1" r="4.9"/><circle cx="784.3" cy="1259.3" r="4.9"/><circle cx="784.9" cy="1264.4" r="4.9"/><circle cx="782.8" cy="1264.6" r="4.9"/><circle cx="782.4" cy="1266.0" r="4.9"/><circle cx="783.4" cy="1268.0" r="4.9"/><circle cx="784.3" cy="1267.1" r="4.9"/><circle cx="782.7" cy="1271.3" r="4.9"/><circle cx="782.3" cy="1269.1" r="4.9"/><circle cx="782.4" cy="1269.2" r="4.9"/><circle cx="783.5" cy="1270.7" r="4.9"/><circle cx="783.1" cy="1275.4" r="4.9"/><circle cx="782.5" cy="1277.2" r="4.9"/><circle cx="784.8" cy="1275.5" r="4.9"/><circle cx="782.7" cy="1283.9" r="4.9"/><circle cx="783.5" cy="1282.9" r="4.9"/><circle cx="783.4" cy="1288.0" r="4.9"/><circle cx="784.7" cy="1287.3" r="4.9"/><circle cx="782.2" cy="1291.9" r="4.9"/><circle cx="784.6" cy="1293.2" r="4.9"/><circle cx="783.2" cy="1298.8" r="4.9"/><circle cx="783.9" cy="1299.7" r="4.9"/><circle cx="782.8" cy="1299.8" r="4.9"/><circle cx="783.3" cy="1299.7" r="4.9"/><circle cx="783.9" cy="1305.9" r="4.9"/><circle cx="785.0" cy="1305.6" r="4.9"/><circle cx="782.5" cy="1310.6" r="4.9"/><circle cx="782.8" cy="1313.3" r="4.9"/><circle cx="784.5" cy="1311.8" r="4.9"/><circle cx="783.0" cy="1312.5" r="4.9"/><circle cx="782.5" cy="1316.0" r="4.9"/><circle cx="783.8" cy="1315.4" r="4.9"/><circle cx="783.7" cy="1316.6" r="4.9"/><circle cx="786.1" cy="1199.3" r="4.9"/><circle cx="785.5" cy="1202.6" r="4.9"/><circle cx="785.9" cy="1203.1" r="4.9"/><circle cx="785.3" cy="1205.9" r="4.9"/><circle cx="785.0" cy="1205.7" r="4.9"/><circle cx="785.3" cy="1209.5" r="4.9"/><circle cx="785.3" cy="1213.0" r="4.9"/><circle cx="787.1" cy="1217.6" r="4.9"/><circle cx="785.1" cy="1218.7" r="4.9"/><circle cx="787.4" cy="1220.1" r="4.9"/><circle cx="785.9" cy="1241.6" r="4.9"/><circle cx="785.4" cy="1240.5" r="4.9"/><circle cx="785.4" cy="1240.3" r="4.9"/><circle cx="785.5" cy="1241.1" r="4.9"/><circle cx="785.4" cy="1241.2" r="4.9"/><circle cx="787.8" cy="1252.0" r="4.9"/><circle cx="787.6" cy="1259.2" r="4.9"/><circle cx="785.8" cy="1257.5" r="4.9"/><circle cx="785.8" cy="1257.2" r="4.9"/><circle cx="786.2" cy="1264.7" r="4.9"/><circle cx="787.0" cy="1273.6" r="4.9"/><circle cx="787.1" cy="1277.9" r="4.9"/><circle cx="787.2" cy="1279.2" r="4.9"/><circle cx="786.0" cy="1279.3" r="4.9"/><circle cx="786.2" cy="1282.2" r="4.9"/><circle cx="786.2" cy="1281.4" r="4.9"/><circle cx="788.0" cy="1281.0" r="4.9"/><circle cx="787.8" cy="1284.8" r="4.9"/><circle cx="786.1" cy="1287.7" r="4.9"/><circle cx="787.4" cy="1298.7" r="4.9"/><circle cx="785.1" cy="1298.1" r="4.9"/><circle cx="786.6" cy="1302.9" r="4.9"/><circle cx="785.0" cy="1307.2" r="4.9"/><circle cx="787.6" cy="1306.5" r="4.9"/><circle cx="786.8" cy="1308.0" r="4.9"/><circle cx="787.2" cy="1312.1" r="4.9"/><circle cx="786.2" cy="1315.6" r="4.9"/><circle cx="786.8" cy="1316.0" r="4.9"/><circle cx="789.4" cy="1214.2" r="4.9"/><circle cx="789.6" cy="1228.6" r="4.9"/><circle cx="789.6" cy="1229.4" r="4.9"/><circle cx="789.4" cy="1237.9" r="4.9"/><circle cx="790.7" cy="1241.6" r="4.9"/><circle cx="788.1" cy="1240.1" r="4.9"/><circle cx="790.5" cy="1242.4" r="4.9"/><circle cx="789.6" cy="1258.4" r="4.9"/><circle cx="788.3" cy="1258.2" r="4.9"/><circle cx="790.1" cy="1261.3" r="4.9"/><circle cx="789.4" cy="1262.4" r="4.9"/><circle cx="790.3" cy="1260.4" r="4.9"/><circle cx="790.0" cy="1261.1" r="4.9"/><circle cx="789.6" cy="1260.7" r="4.9"/><circle cx="789.0" cy="1264.1" r="4.9"/><circle cx="788.2" cy="1272.5" r="4.9"/><circle cx="788.8" cy="1276.0" r="4.9"/><circle cx="788.3" cy="1282.9" r="4.9"/><circle cx="790.6" cy="1281.6" r="4.9"/><circle cx="790.4" cy="1285.9" r="4.9"/><circle cx="788.1" cy="1288.3" r="4.9"/><circle cx="790.1" cy="1290.9" r="4.9"/><circle cx="789.9" cy="1295.4" r="4.9"/><circle cx="789.7" cy="1301.8" r="4.9"/><circle cx="790.1" cy="1306.1" r="4.9"/><circle cx="790.0" cy="1306.0" r="4.9"/><circle cx="788.2" cy="1307.3" r="4.9"/><circle cx="789.6" cy="1309.5" r="4.9"/><circle cx="790.3" cy="1311.1" r="4.9"/><circle cx="789.8" cy="1312.4" r="4.9"/><circle cx="789.4" cy="1313.5" r="4.9"/><circle cx="789.4" cy="1316.7" r="4.9"/><circle cx="793.0" cy="1205.2" r="4.9"/><circle cx="792.7" cy="1214.3" r="4.9"/><circle cx="791.4" cy="1215.7" r="4.9"/><circle cx="791.3" cy="1221.3" r="4.9"/><circle cx="792.7" cy="1224.2" r="4.9"/><circle cx="793.1" cy="1228.4" r="4.9"/><circle cx="792.3" cy="1234.8" r="4.9"/><circle cx="793.5" cy="1238.6" r="4.9"/><circle cx="791.4" cy="1237.0" r="4.9"/><circle cx="792.6" cy="1236.0" r="4.9"/><circle cx="794.0" cy="1236.8" r="4.9"/><circle cx="792.7" cy="1249.5" r="4.9"/><circle cx="792.3" cy="1248.2" r="4.9"/><circle cx="793.4" cy="1256.6" r="4.9"/><circle cx="791.8" cy="1254.6" r="4.9"/><circle cx="792.1" cy="1261.4" r="4.9"/><circle cx="792.8" cy="1264.1" r="4.9"/><circle cx="791.6" cy="1268.8" r="4.9"/><circle cx="792.7" cy="1266.2" r="4.9"/><circle cx="792.2" cy="1273.7" r="4.9"/><circle cx="791.9" cy="1283.1" r="4.9"/><circle cx="793.4" cy="1282.8" r="4.9"/><circle cx="793.8" cy="1285.3" r="4.9"/><circle cx="791.2" cy="1288.3" r="4.9"/><circle cx="792.9" cy="1287.1" r="4.9"/><circle cx="791.2" cy="1291.8" r="4.9"/><circle cx="791.5" cy="1292.8" r="4.9"/><circle cx="793.4" cy="1294.5" r="4.9"/><circle cx="793.0" cy="1296.9" r="4.9"/><circle cx="791.4" cy="1304.8" r="4.9"/><circle cx="791.6" cy="1302.3" r="4.9"/><circle cx="793.9" cy="1309.2" r="4.9"/><circle cx="793.0" cy="1308.8" r="4.9"/><circle cx="793.1" cy="1311.5" r="4.9"/><circle cx="791.2" cy="1313.1" r="4.9"/><circle cx="791.1" cy="1313.5" r="4.9"/><circle cx="791.7" cy="1315.7" r="4.9"/><circle cx="795.0" cy="1205.5" r="4.9"/><circle cx="796.9" cy="1210.2" r="4.9"/><circle cx="794.7" cy="1219.6" r="4.9"/><circle cx="795.3" cy="1229.0" r="4.9"/><circle cx="794.4" cy="1235.8" r="4.9"/><circle cx="796.8" cy="1237.6" r="4.9"/><circle cx="794.9" cy="1237.0" r="4.9"/><circle cx="796.3" cy="1237.5" r="4.9"/><circle cx="796.8" cy="1236.3" r="4.9"/><circle cx="796.6" cy="1240.8" r="4.9"/><circle cx="796.5" cy="1254.7" r="4.9"/><circle cx="796.8" cy="1254.1" r="4.9"/><circle cx="796.9" cy="1258.0" r="4.9"/><circle cx="796.0" cy="1260.2" r="4.9"/><circle cx="795.0" cy="1261.3" r="4.9"/><circle cx="794.7" cy="1262.2" r="4.9"/><circle cx="794.9" cy="1266.2" r="4.9"/><circle cx="795.7" cy="1266.3" r="4.9"/><circle cx="796.4" cy="1270.8" r="4.9"/><circle cx="794.1" cy="1273.5" r="4.9"/><circle cx="794.4" cy="1279.7" r="4.9"/><circle cx="796.0" cy="1284.5" r="4.9"/><circle cx="795.0" cy="1292.5" r="4.9"/><circle cx="796.6" cy="1291.4" r="4.9"/><circle cx="794.4" cy="1290.3" r="4.9"/><circle cx="794.4" cy="1294.5" r="4.9"/><circle cx="795.6" cy="1293.4" r="4.9"/><circle cx="794.5" cy="1297.6" r="4.9"/><circle cx="795.1" cy="1299.6" r="4.9"/><circle cx="794.6" cy="1302.4" r="4.9"/><circle cx="795.5" cy="1310.7" r="4.9"/><circle cx="794.0" cy="1310.8" r="4.9"/><circle cx="796.4" cy="1312.7" r="4.9"/><circle cx="794.7" cy="1316.3" r="4.9"/><circle cx="794.5" cy="1314.8" r="4.9"/><circle cx="797.3" cy="1207.7" r="4.9"/><circle cx="799.1" cy="1215.2" r="4.9"/><circle cx="797.1" cy="1225.9" r="4.9"/><circle cx="799.1" cy="1226.4" r="4.9"/><circle cx="798.0" cy="1226.4" r="4.9"/><circle cx="797.0" cy="1232.8" r="4.9"/><circle cx="799.0" cy="1245.5" r="4.9"/><circle cx="800.0" cy="1265.4" r="4.9"/><circle cx="798.4" cy="1264.5" r="4.9"/><circle cx="799.3" cy="1265.7" r="4.9"/><circle cx="798.9" cy="1266.6" r="4.9"/><circle cx="798.9" cy="1268.5" r="4.9"/><circle cx="797.3" cy="1271.2" r="4.9"/><circle cx="798.0" cy="1269.5" r="4.9"/><circle cx="799.0" cy="1274.2" r="4.9"/><circle cx="797.4" cy="1274.5" r="4.9"/><circle cx="799.8" cy="1274.7" r="4.9"/><circle cx="799.5" cy="1277.4" r="4.9"/><circle cx="798.8" cy="1276.3" r="4.9"/><circle cx="799.4" cy="1280.6" r="4.9"/><circle cx="797.9" cy="1280.9" r="4.9"/><circle cx="799.8" cy="1281.3" r="4.9"/><circle cx="799.4" cy="1284.8" r="4.9"/><circle cx="799.5" cy="1284.7" r="4.9"/><circle cx="797.6" cy="1285.4" r="4.9"/><circle cx="799.7" cy="1292.1" r="4.9"/><circle cx="798.2" cy="1295.4" r="4.9"/><circle cx="799.0" cy="1298.8" r="4.9"/><circle cx="799.5" cy="1297.2" r="4.9"/><circle cx="799.5" cy="1303.0" r="4.9"/><circle cx="799.5" cy="1307.4" r="4.9"/><circle cx="797.0" cy="1311.3" r="4.9"/><circle cx="798.3" cy="1315.8" r="4.9"/><circle cx="798.4" cy="1315.0" r="4.9"/><circle cx="800.1" cy="1244.5" r="4.9"/><circle cx="801.1" cy="1251.7" r="4.9"/><circle cx="802.7" cy="1252.8" r="4.9"/><circle cx="802.7" cy="1252.2" r="4.9"/><circle cx="802.9" cy="1255.5" r="4.9"/><circle cx="800.6" cy="1259.5" r="4.9"/><circle cx="800.5" cy="1258.6" r="4.9"/><circle cx="800.0" cy="1257.5" r="4.9"/><circle cx="802.8" cy="1258.4" r="4.9"/><circle cx="800.8" cy="1261.1" r="4.9"/><circle cx="800.3" cy="1261.7" r="4.9"/><circle cx="801.5" cy="1264.1" r="4.9"/><circle cx="802.8" cy="1265.7" r="4.9"/><circle cx="800.2" cy="1267.9" r="4.9"/><circle cx="802.9" cy="1270.1" r="4.9"/><circle cx="801.9" cy="1273.1" r="4.9"/><circle cx="802.0" cy="1277.7" r="4.9"/><circle cx="801.1" cy="1280.9" r="4.9"/><circle cx="802.1" cy="1285.7" r="4.9"/><circle cx="801.3" cy="1286.3" r="4.9"/><circle cx="802.2" cy="1289.2" r="4.9"/><circle cx="800.1" cy="1288.0" r="4.9"/><circle cx="802.7" cy="1293.4" r="4.9"/><circle cx="801.8" cy="1294.7" r="4.9"/><circle cx="800.1" cy="1294.2" r="4.9"/><circle cx="801.9" cy="1296.8" r="4.9"/><circle cx="802.3" cy="1296.9" r="4.9"/><circle cx="801.3" cy="1301.9" r="4.9"/><circle cx="802.4" cy="1304.0" r="4.9"/><circle cx="802.9" cy="1307.1" r="4.9"/><circle cx="800.8" cy="1308.5" r="4.9"/><circle cx="802.5" cy="1313.4" r="4.9"/><circle cx="800.4" cy="1315.5" r="4.9"/><circle cx="805.9" cy="1245.6" r="4.9"/><circle cx="803.9" cy="1247.8" r="4.9"/><circle cx="803.6" cy="1246.0" r="4.9"/><circle cx="803.3" cy="1248.8" r="4.9"/><circle cx="804.2" cy="1253.9" r="4.9"/><circle cx="804.4" cy="1262.5" r="4.9"/><circle cx="804.9" cy="1262.3" r="4.9"/><circle cx="804.4" cy="1270.7" r="4.9"/><circle cx="805.0" cy="1271.3" r="4.9"/><circle cx="804.6" cy="1278.9" r="4.9"/><circle cx="804.9" cy="1278.8" r="4.9"/><circle cx="803.1" cy="1283.5" r="4.9"/><circle cx="804.7" cy="1282.1" r="4.9"/><circle cx="803.8" cy="1284.7" r="4.9"/><circle cx="803.2" cy="1285.6" r="4.9"/><circle cx="805.3" cy="1286.0" r="4.9"/><circle cx="805.4" cy="1287.3" r="4.9"/><circle cx="805.9" cy="1294.9" r="4.9"/><circle cx="805.3" cy="1297.2" r="4.9"/><circle cx="805.2" cy="1300.0" r="4.9"/><circle cx="804.2" cy="1301.4" r="4.9"/><circle cx="804.0" cy="1299.6" r="4.9"/><circle cx="804.6" cy="1303.6" r="4.9"/><circle cx="805.0" cy="1304.7" r="4.9"/><circle cx="804.5" cy="1316.6" r="4.9"/><circle cx="806.4" cy="1250.1" r="4.9"/><circle cx="808.1" cy="1249.8" r="4.9"/><circle cx="808.5" cy="1257.8" r="4.9"/><circle cx="808.9" cy="1271.4" r="4.9"/><circle cx="806.2" cy="1277.5" r="4.9"/><circle cx="806.4" cy="1284.8" r="4.9"/><circle cx="807.7" cy="1292.4" r="4.9"/><circle cx="806.3" cy="1296.7" r="4.9"/><circle cx="807.9" cy="1297.0" r="4.9"/><circle cx="806.7" cy="1304.4" r="4.9"/><circle cx="808.4" cy="1309.6" r="4.9"/><circle cx="806.1" cy="1310.3" r="4.9"/><circle cx="807.3" cy="1314.2" r="4.9"/><circle cx="809.6" cy="1262.1" r="4.9"/><circle cx="811.1" cy="1271.9" r="4.9"/><circle cx="811.8" cy="1274.8" r="4.9"/><circle cx="811.2" cy="1274.2" r="4.9"/><circle cx="811.2" cy="1285.9" r="4.9"/><circle cx="809.8" cy="1285.1" r="4.9"/><circle cx="812.0" cy="1290.9" r="4.9"/><circle cx="811.4" cy="1303.4" r="4.9"/><circle cx="809.3" cy="1302.3" r="4.9"/><circle cx="810.4" cy="1311.0" r="4.9"/><circle cx="811.7" cy="1310.4" r="4.9"/><circle cx="811.5" cy="1311.4" r="4.9"/><circle cx="813.8" cy="1288.9" r="4.9"/><circle cx="813.3" cy="1290.2" r="4.9"/><circle cx="812.2" cy="1294.4" r="4.9"/><circle cx="814.0" cy="1298.1" r="4.9"/><circle cx="814.1" cy="1303.4" r="4.9"/><circle cx="813.8" cy="1308.2" r="4.9"/><circle cx="812.7" cy="1311.0" r="4.9"/><circle cx="814.4" cy="1316.5" r="4.9"/><circle cx="816.6" cy="1294.1" r="4.9"/><circle cx="815.3" cy="1295.2" r="4.9"/><circle cx="817.5" cy="1295.5" r="4.9"/><circle cx="815.9" cy="1301.3" r="4.9"/><circle cx="817.9" cy="1307.3" r="4.9"/><circle cx="818.5" cy="1294.6" r="4.9"/><circle cx="819.9" cy="1294.6" r="4.9"/><circle cx="820.8" cy="1294.2" r="4.9"/><circle cx="820.1" cy="1298.9" r="4.9"/><circle cx="818.3" cy="1296.6" r="4.9"/><circle cx="818.0" cy="1302.8" r="4.9"/><circle cx="820.1" cy="1305.0" r="4.9"/><circle cx="820.1" cy="1310.1" r="4.9"/><circle cx="820.3" cy="1311.7" r="4.9"/><circle cx="818.8" cy="1311.1" r="4.9"/><circle cx="818.6" cy="1314.8" r="4.9"/><circle cx="820.9" cy="1315.9" r="4.9"/><circle cx="822.1" cy="1301.0" r="4.9"/><circle cx="822.7" cy="1299.7" r="4.9"/><circle cx="821.2" cy="1299.0" r="4.9"/><circle cx="823.6" cy="1299.4" r="4.9"/><circle cx="822.1" cy="1304.2" r="4.9"/><circle cx="821.4" cy="1304.4" r="4.9"/><circle cx="821.8" cy="1303.1" r="4.9"/><circle cx="821.3" cy="1305.7" r="4.9"/><circle cx="821.9" cy="1309.1" r="4.9"/><circle cx="823.3" cy="1308.7" r="4.9"/><circle cx="826.9" cy="1283.6" r="4.9"/><circle cx="825.6" cy="1287.7" r="4.9"/><circle cx="825.4" cy="1295.2" r="4.9"/><circle cx="824.2" cy="1294.4" r="4.9"/><circle cx="825.0" cy="1293.6" r="4.9"/><circle cx="825.1" cy="1296.4" r="4.9"/><circle cx="825.4" cy="1299.5" r="4.9"/><circle cx="824.0" cy="1301.0" r="4.9"/><circle cx="825.5" cy="1299.1" r="4.9"/><circle cx="825.4" cy="1301.2" r="4.9"/><circle cx="824.7" cy="1303.5" r="4.9"/><circle cx="826.0" cy="1305.4" r="4.9"/><circle cx="826.8" cy="1310.2" r="4.9"/><circle cx="826.6" cy="1309.1" r="4.9"/><circle cx="824.5" cy="1311.7" r="4.9"/><circle cx="825.8" cy="1313.7" r="4.9"/><circle cx="824.2" cy="1311.7" r="4.9"/><circle cx="829.1" cy="1263.4" r="4.9"/><circle cx="828.6" cy="1273.7" r="4.9"/><circle cx="829.7" cy="1272.2" r="4.9"/><circle cx="828.4" cy="1282.2" r="4.9"/><circle cx="829.0" cy="1286.6" r="4.9"/><circle cx="829.9" cy="1284.8" r="4.9"/><circle cx="828.2" cy="1287.2" r="4.9"/><circle cx="829.7" cy="1287.3" r="4.9"/><circle cx="827.1" cy="1287.9" r="4.9"/><circle cx="829.6" cy="1294.3" r="4.9"/><circle cx="828.6" cy="1295.5" r="4.9"/><circle cx="829.4" cy="1295.0" r="4.9"/><circle cx="827.3" cy="1296.7" r="4.9"/><circle cx="828.8" cy="1301.4" r="4.9"/><circle cx="829.9" cy="1302.6" r="4.9"/><circle cx="827.2" cy="1304.7" r="4.9"/><circle cx="827.5" cy="1307.1" r="4.9"/><circle cx="828.6" cy="1316.0" r="4.9"/><circle cx="832.4" cy="1239.7" r="4.9"/><circle cx="832.7" cy="1242.7" r="4.9"/><circle cx="832.2" cy="1243.1" r="4.9"/><circle cx="832.3" cy="1245.4" r="4.9"/><circle cx="831.3" cy="1263.2" r="4.9"/><circle cx="832.8" cy="1267.7" r="4.9"/><circle cx="831.3" cy="1272.5" r="4.9"/><circle cx="830.1" cy="1277.0" r="4.9"/><circle cx="832.9" cy="1283.3" r="4.9"/><circle cx="831.9" cy="1285.9" r="4.9"/><circle cx="832.1" cy="1286.9" r="4.9"/><circle cx="830.9" cy="1290.8" r="4.9"/><circle cx="832.5" cy="1291.8" r="4.9"/><circle cx="832.6" cy="1294.8" r="4.9"/><circle cx="830.6" cy="1293.0" r="4.9"/><circle cx="832.2" cy="1296.8" r="4.9"/><circle cx="830.0" cy="1308.7" r="4.9"/><circle cx="833.0" cy="1314.1" r="4.9"/><circle cx="830.3" cy="1316.8" r="4.9"/><circle cx="835.2" cy="1234.0" r="4.9"/><circle cx="834.7" cy="1242.2" r="4.9"/><circle cx="833.5" cy="1244.1" r="4.9"/><circle cx="835.2" cy="1245.7" r="4.9"/><circle cx="835.4" cy="1248.3" r="4.9"/><circle cx="834.8" cy="1248.6" r="4.9"/><circle cx="835.4" cy="1253.4" r="4.9"/><circle cx="834.7" cy="1260.4" r="4.9"/><circle cx="833.3" cy="1267.9" r="4.9"/><circle cx="834.6" cy="1277.2" r="4.9"/><circle cx="833.7" cy="1281.9" r="4.9"/><circle cx="835.1" cy="1285.8" r="4.9"/><circle cx="833.6" cy="1287.9" r="4.9"/><circle cx="835.0" cy="1287.8" r="4.9"/><circle cx="835.5" cy="1298.1" r="4.9"/><circle cx="835.9" cy="1298.4" r="4.9"/><circle cx="833.2" cy="1306.8" r="4.9"/><circle cx="833.5" cy="1316.8" r="4.9"/><circle cx="836.3" cy="1221.2" r="4.9"/><circle cx="838.3" cy="1246.1" r="4.9"/><circle cx="838.8" cy="1250.8" r="4.9"/><circle cx="836.3" cy="1252.4" r="4.9"/><circle cx="836.8" cy="1254.1" r="4.9"/><circle cx="838.7" cy="1257.4" r="4.9"/><circle cx="837.4" cy="1258.9" r="4.9"/><circle cx="836.9" cy="1257.2" r="4.9"/><circle cx="838.3" cy="1259.3" r="4.9"/><circle cx="836.3" cy="1261.2" r="4.9"/><circle cx="836.2" cy="1266.9" r="4.9"/><circle cx="838.3" cy="1266.4" r="4.9"/><circle cx="836.3" cy="1266.2" r="4.9"/><circle cx="838.5" cy="1272.5" r="4.9"/><circle cx="837.3" cy="1279.0" r="4.9"/><circle cx="836.4" cy="1278.7" r="4.9"/><circle cx="836.4" cy="1281.8" r="4.9"/><circle cx="838.2" cy="1283.7" r="4.9"/><circle cx="838.7" cy="1282.4" r="4.9"/><circle cx="837.8" cy="1284.9" r="4.9"/><circle cx="837.4" cy="1286.1" r="4.9"/><circle cx="838.2" cy="1284.4" r="4.9"/><circle cx="836.3" cy="1292.4" r="4.9"/><circle cx="837.0" cy="1290.7" r="4.9"/><circle cx="836.8" cy="1291.4" r="4.9"/><circle cx="836.4" cy="1295.6" r="4.9"/><circle cx="837.0" cy="1293.5" r="4.9"/><circle cx="838.2" cy="1294.0" r="4.9"/><circle cx="836.6" cy="1294.3" r="4.9"/><circle cx="838.6" cy="1297.7" r="4.9"/><circle cx="836.0" cy="1298.3" r="4.9"/><circle cx="838.7" cy="1301.9" r="4.9"/><circle cx="838.5" cy="1305.8" r="4.9"/><circle cx="837.1" cy="1306.1" r="4.9"/><circle cx="836.3" cy="1311.7" r="4.9"/><circle cx="837.2" cy="1315.9" r="4.9"/><circle cx="838.7" cy="1316.3" r="4.9"/><circle cx="836.7" cy="1316.8" r="4.9"/><circle cx="841.2" cy="1199.3" r="4.9"/><circle cx="839.4" cy="1213.6" r="4.9"/><circle cx="840.0" cy="1220.5" r="4.9"/><circle cx="841.6" cy="1221.4" r="4.9"/><circle cx="841.2" cy="1226.0" r="4.9"/><circle cx="840.6" cy="1234.4" r="4.9"/><circle cx="841.3" cy="1241.6" r="4.9"/><circle cx="839.6" cy="1240.0" r="4.9"/><circle cx="839.7" cy="1254.2" r="4.9"/><circle cx="839.2" cy="1256.2" r="4.9"/><circle cx="840.2" cy="1262.4" r="4.9"/><circle cx="839.9" cy="1264.9" r="4.9"/><circle cx="841.7" cy="1264.4" r="4.9"/><circle cx="841.7" cy="1265.2" r="4.9"/><circle cx="840.7" cy="1269.3" r="4.9"/><circle cx="840.8" cy="1271.5" r="4.9"/><circle cx="840.5" cy="1273.2" r="4.9"/><circle cx="841.0" cy="1275.6" r="4.9"/><circle cx="840.1" cy="1276.1" r="4.9"/><circle cx="841.1" cy="1278.4" r="4.9"/><circle cx="841.7" cy="1278.1" r="4.9"/><circle cx="840.8" cy="1279.3" r="4.9"/><circle cx="840.3" cy="1281.3" r="4.9"/><circle cx="841.5" cy="1286.4" r="4.9"/><circle cx="841.4" cy="1293.7" r="4.9"/><circle cx="841.6" cy="1296.0" r="4.9"/><circle cx="840.1" cy="1298.1" r="4.9"/><circle cx="839.6" cy="1299.9" r="4.9"/><circle cx="840.0" cy="1301.2" r="4.9"/><circle cx="839.6" cy="1300.6" r="4.9"/><circle cx="841.0" cy="1302.4" r="4.9"/><circle cx="842.0" cy="1306.7" r="4.9"/><circle cx="841.4" cy="1305.6" r="4.9"/><circle cx="841.7" cy="1306.7" r="4.9"/><circle cx="841.6" cy="1309.1" r="4.9"/><circle cx="841.8" cy="1308.6" r="4.9"/><circle cx="841.7" cy="1316.7" r="4.9"/><circle cx="843.5" cy="1196.8" r="4.9"/><circle cx="844.2" cy="1239.7" r="4.9"/><circle cx="842.5" cy="1246.8" r="4.9"/><circle cx="842.6" cy="1249.8" r="4.9"/><circle cx="844.2" cy="1250.2" r="4.9"/><circle cx="844.1" cy="1251.8" r="4.9"/><circle cx="844.8" cy="1254.2" r="4.9"/><circle cx="844.8" cy="1255.3" r="4.9"/><circle cx="844.0" cy="1263.4" r="4.9"/><circle cx="843.4" cy="1264.9" r="4.9"/><circle cx="843.0" cy="1268.3" r="4.9"/><circle cx="842.7" cy="1266.6" r="4.9"/><circle cx="842.5" cy="1267.2" r="4.9"/><circle cx="843.9" cy="1266.9" r="4.9"/><circle cx="842.5" cy="1266.7" r="4.9"/><circle cx="842.6" cy="1279.4" r="4.9"/><circle cx="844.9" cy="1282.5" r="4.9"/><circle cx="843.4" cy="1284.6" r="4.9"/><circle cx="843.8" cy="1284.4" r="4.9"/><circle cx="842.5" cy="1284.2" r="4.9"/><circle cx="844.9" cy="1288.2" r="4.9"/><circle cx="843.1" cy="1295.1" r="4.9"/><circle cx="842.5" cy="1298.6" r="4.9"/><circle cx="842.0" cy="1301.5" r="4.9"/><circle cx="843.1" cy="1303.9" r="4.9"/><circle cx="843.2" cy="1306.3" r="4.9"/><circle cx="842.9" cy="1306.7" r="4.9"/><circle cx="844.0" cy="1307.2" r="4.9"/><circle cx="842.4" cy="1309.1" r="4.9"/><circle cx="844.6" cy="1310.4" r="4.9"/><circle cx="843.8" cy="1310.0" r="4.9"/><circle cx="844.8" cy="1312.6" r="4.9"/><circle cx="842.5" cy="1314.3" r="4.9"/><circle cx="847.4" cy="1194.1" r="4.9"/><circle cx="846.0" cy="1210.6" r="4.9"/><circle cx="846.9" cy="1213.4" r="4.9"/><circle cx="845.8" cy="1225.1" r="4.9"/><circle cx="846.6" cy="1233.8" r="4.9"/><circle cx="845.5" cy="1241.1" r="4.9"/><circle cx="845.1" cy="1239.6" r="4.9"/><circle cx="845.4" cy="1245.7" r="4.9"/><circle cx="845.2" cy="1245.8" r="4.9"/><circle cx="847.2" cy="1250.7" r="4.9"/><circle cx="846.7" cy="1253.8" r="4.9"/><circle cx="845.3" cy="1253.8" r="4.9"/><circle cx="846.3" cy="1251.6" r="4.9"/><circle cx="847.6" cy="1255.2" r="4.9"/><circle cx="845.3" cy="1256.6" r="4.9"/><circle cx="846.8" cy="1259.9" r="4.9"/><circle cx="845.1" cy="1257.2" r="4.9"/><circle cx="846.9" cy="1266.3" r="4.9"/><circle cx="847.0" cy="1277.9" r="4.9"/><circle cx="846.3" cy="1282.2" r="4.9"/><circle cx="845.8" cy="1281.7" r="4.9"/><circle cx="847.9" cy="1284.0" r="4.9"/><circle cx="845.5" cy="1284.5" r="4.9"/><circle cx="845.2" cy="1294.6" r="4.9"/><circle cx="847.0" cy="1293.1" r="4.9"/><circle cx="847.4" cy="1297.7" r="4.9"/><circle cx="847.6" cy="1300.8" r="4.9"/><circle cx="847.8" cy="1307.6" r="4.9"/><circle cx="846.7" cy="1308.4" r="4.9"/><circle cx="845.5" cy="1309.1" r="4.9"/><circle cx="845.0" cy="1313.4" r="4.9"/><circle cx="847.4" cy="1312.5" r="4.9"/><circle cx="850.9" cy="1214.8" r="4.9"/><circle cx="850.4" cy="1229.4" r="4.9"/><circle cx="851.0" cy="1232.1" r="4.9"/><circle cx="848.8" cy="1243.8" r="4.9"/><circle cx="849.5" cy="1248.8" r="4.9"/><circle cx="850.8" cy="1248.2" r="4.9"/><circle cx="850.3" cy="1251.4" r="4.9"/><circle cx="850.3" cy="1252.7" r="4.9"/><circle cx="850.7" cy="1252.8" r="4.9"/><circle cx="850.8" cy="1254.3" r="4.9"/><circle cx="848.3" cy="1257.8" r="4.9"/><circle cx="848.3" cy="1259.6" r="4.9"/><circle cx="850.2" cy="1260.8" r="4.9"/><circle cx="849.9" cy="1263.3" r="4.9"/><circle cx="850.2" cy="1266.6" r="4.9"/><circle cx="848.8" cy="1270.1" r="4.9"/><circle cx="850.8" cy="1275.0" r="4.9"/><circle cx="849.3" cy="1273.7" r="4.9"/><circle cx="850.4" cy="1274.3" r="4.9"/><circle cx="850.6" cy="1276.2" r="4.9"/><circle cx="849.4" cy="1278.4" r="4.9"/><circle cx="850.2" cy="1278.4" r="4.9"/><circle cx="850.0" cy="1278.2" r="4.9"/><circle cx="849.6" cy="1283.2" r="4.9"/><circle cx="848.4" cy="1282.9" r="4.9"/><circle cx="849.1" cy="1281.7" r="4.9"/><circle cx="850.4" cy="1281.1" r="4.9"/><circle cx="848.3" cy="1286.6" r="4.9"/><circle cx="848.1" cy="1288.4" r="4.9"/><circle cx="849.4" cy="1289.2" r="4.9"/><circle cx="849.0" cy="1292.8" r="4.9"/><circle cx="848.4" cy="1299.6" r="4.9"/><circle cx="849.5" cy="1300.0" r="4.9"/><circle cx="849.4" cy="1307.4" r="4.9"/><circle cx="848.8" cy="1307.7" r="4.9"/><circle cx="848.7" cy="1307.7" r="4.9"/><circle cx="850.9" cy="1310.3" r="4.9"/><circle cx="849.6" cy="1313.6" r="4.9"/><circle cx="848.3" cy="1316.7" r="4.9"/><circle cx="853.8" cy="1212.5" r="4.9"/><circle cx="852.7" cy="1240.2" r="4.9"/><circle cx="852.5" cy="1248.8" r="4.9"/><circle cx="852.7" cy="1253.3" r="4.9"/><circle cx="851.5" cy="1256.7" r="4.9"/><circle cx="853.9" cy="1259.9" r="4.9"/><circle cx="853.9" cy="1264.2" r="4.9"/><circle cx="851.9" cy="1266.1" r="4.9"/><circle cx="852.7" cy="1280.8" r="4.9"/><circle cx="852.1" cy="1283.8" r="4.9"/><circle cx="852.6" cy="1286.6" r="4.9"/><circle cx="852.1" cy="1288.8" r="4.9"/><circle cx="851.7" cy="1295.9" r="4.9"/><circle cx="851.2" cy="1293.0" r="4.9"/><circle cx="852.7" cy="1293.6" r="4.9"/><circle cx="851.4" cy="1298.5" r="4.9"/><circle cx="853.1" cy="1301.8" r="4.9"/><circle cx="853.0" cy="1304.1" r="4.9"/><circle cx="851.0" cy="1302.1" r="4.9"/><circle cx="852.3" cy="1304.9" r="4.9"/><circle cx="851.9" cy="1303.7" r="4.9"/><circle cx="853.7" cy="1309.8" r="4.9"/><circle cx="851.0" cy="1311.6" r="4.9"/><circle cx="851.5" cy="1313.5" r="4.9"/><circle cx="854.8" cy="1196.6" r="4.9"/><circle cx="855.2" cy="1247.1" r="4.9"/><circle cx="854.2" cy="1247.5" r="4.9"/><circle cx="856.9" cy="1245.3" r="4.9"/><circle cx="854.8" cy="1248.4" r="4.9"/><circle cx="855.1" cy="1250.0" r="4.9"/><circle cx="857.0" cy="1254.0" r="4.9"/><circle cx="855.9" cy="1253.0" r="4.9"/><circle cx="854.5" cy="1253.2" r="4.9"/><circle cx="855.1" cy="1256.7" r="4.9"/><circle cx="856.4" cy="1269.5" r="4.9"/><circle cx="855.7" cy="1273.7" r="4.9"/><circle cx="855.6" cy="1275.0" r="4.9"/><circle cx="854.7" cy="1283.3" r="4.9"/><circle cx="854.7" cy="1287.3" r="4.9"/><circle cx="855.4" cy="1288.2" r="4.9"/><circle cx="854.7" cy="1295.0" r="4.9"/><circle cx="856.5" cy="1294.4" r="4.9"/><circle cx="856.8" cy="1297.8" r="4.9"/><circle cx="855.3" cy="1314.9" r="4.9"/><circle cx="855.5" cy="1316.8" r="4.9"/><circle cx="859.1" cy="1252.3" r="4.9"/><circle cx="857.5" cy="1251.1" r="4.9"/><circle cx="858.9" cy="1257.5" r="4.9"/><circle cx="858.9" cy="1257.2" r="4.9"/><circle cx="858.0" cy="1260.3" r="4.9"/><circle cx="859.2" cy="1264.5" r="4.9"/><circle cx="857.5" cy="1265.0" r="4.9"/><circle cx="859.0" cy="1266.3" r="4.9"/><circle cx="857.0" cy="1269.7" r="4.9"/><circle cx="858.2" cy="1269.6" r="4.9"/><circle cx="860.0" cy="1276.0" r="4.9"/><circle cx="857.7" cy="1282.2" r="4.9"/><circle cx="858.3" cy="1284.5" r="4.9"/><circle cx="860.0" cy="1292.8" r="4.9"/><circle cx="858.5" cy="1296.6" r="4.9"/><circle cx="858.5" cy="1301.4" r="4.9"/><circle cx="859.4" cy="1306.4" r="4.9"/><circle cx="857.4" cy="1306.5" r="4.9"/><circle cx="857.4" cy="1307.1" r="4.9"/><circle cx="858.7" cy="1310.9" r="4.9"/><circle cx="859.4" cy="1314.3" r="4.9"/><circle cx="858.0" cy="1314.2" r="4.9"/><circle cx="861.0" cy="1244.1" r="4.9"/><circle cx="862.1" cy="1245.8" r="4.9"/><circle cx="861.3" cy="1248.0" r="4.9"/><circle cx="860.3" cy="1250.2" r="4.9"/><circle cx="862.6" cy="1249.9" r="4.9"/><circle cx="862.2" cy="1254.3" r="4.9"/><circle cx="861.1" cy="1256.0" r="4.9"/><circle cx="863.0" cy="1267.0" r="4.9"/><circle cx="862.7" cy="1268.4" r="4.9"/><circle cx="861.8" cy="1271.9" r="4.9"/><circle cx="861.9" cy="1271.8" r="4.9"/><circle cx="860.6" cy="1273.6" r="4.9"/><circle cx="861.0" cy="1276.1" r="4.9"/><circle cx="861.8" cy="1278.7" r="4.9"/><circle cx="861.5" cy="1285.3" r="4.9"/><circle cx="860.6" cy="1288.6" r="4.9"/><circle cx="862.1" cy="1295.3" r="4.9"/><circle cx="861.6" cy="1293.7" r="4.9"/><circle cx="861.5" cy="1297.1" r="4.9"/><circle cx="860.9" cy="1297.2" r="4.9"/><circle cx="862.1" cy="1298.5" r="4.9"/><circle cx="862.2" cy="1299.6" r="4.9"/><circle cx="861.1" cy="1302.9" r="4.9"/><circle cx="862.2" cy="1308.6" r="4.9"/><circle cx="860.7" cy="1310.4" r="4.9"/><circle cx="862.0" cy="1312.9" r="4.9"/><circle cx="862.1" cy="1311.8" r="4.9"/><circle cx="864.6" cy="1247.0" r="4.9"/><circle cx="865.9" cy="1247.4" r="4.9"/><circle cx="863.7" cy="1246.0" r="4.9"/><circle cx="865.2" cy="1252.5" r="4.9"/><circle cx="864.1" cy="1251.8" r="4.9"/><circle cx="865.1" cy="1256.7" r="4.9"/><circle cx="865.6" cy="1258.3" r="4.9"/><circle cx="864.3" cy="1257.9" r="4.9"/><circle cx="863.6" cy="1260.5" r="4.9"/><circle cx="863.8" cy="1262.8" r="4.9"/><circle cx="865.6" cy="1261.0" r="4.9"/><circle cx="865.7" cy="1264.3" r="4.9"/><circle cx="863.6" cy="1265.3" r="4.9"/><circle cx="863.4" cy="1268.7" r="4.9"/><circle cx="864.2" cy="1270.8" r="4.9"/><circle cx="864.1" cy="1278.0" r="4.9"/><circle cx="865.3" cy="1282.0" r="4.9"/><circle cx="864.9" cy="1284.6" r="4.9"/><circle cx="864.8" cy="1290.9" r="4.9"/><circle cx="865.7" cy="1296.7" r="4.9"/><circle cx="864.8" cy="1297.7" r="4.9"/><circle cx="864.8" cy="1309.5" r="4.9"/><circle cx="866.3" cy="1251.0" r="4.9"/><circle cx="866.7" cy="1250.6" r="4.9"/><circle cx="867.1" cy="1254.1" r="4.9"/><circle cx="868.4" cy="1257.8" r="4.9"/><circle cx="868.3" cy="1258.4" r="4.9"/><circle cx="866.2" cy="1261.1" r="4.9"/><circle cx="866.7" cy="1261.9" r="4.9"/><circle cx="868.3" cy="1262.5" r="4.9"/><circle cx="867.6" cy="1261.2" r="4.9"/><circle cx="866.3" cy="1263.8" r="4.9"/><circle cx="868.3" cy="1264.3" r="4.9"/><circle cx="866.3" cy="1267.4" r="4.9"/><circle cx="866.6" cy="1266.0" r="4.9"/><circle cx="866.3" cy="1266.3" r="4.9"/><circle cx="867.1" cy="1267.3" r="4.9"/><circle cx="866.9" cy="1271.1" r="4.9"/><circle cx="868.9" cy="1272.5" r="4.9"/><circle cx="867.5" cy="1276.1" r="4.9"/><circle cx="866.6" cy="1280.6" r="4.9"/><circle cx="867.1" cy="1279.0" r="4.9"/><circle cx="867.7" cy="1281.9" r="4.9"/><circle cx="867.1" cy="1287.3" r="4.9"/><circle cx="868.0" cy="1288.6" r="4.9"/><circle cx="867.0" cy="1288.0" r="4.9"/><circle cx="867.0" cy="1291.3" r="4.9"/><circle cx="868.9" cy="1291.1" r="4.9"/><circle cx="866.5" cy="1295.0" r="4.9"/><circle cx="867.3" cy="1297.2" r="4.9"/><circle cx="867.4" cy="1304.5" r="4.9"/><circle cx="867.1" cy="1304.2" r="4.9"/><circle cx="868.0" cy="1313.0" r="4.9"/><circle cx="867.5" cy="1312.4" r="4.9"/><circle cx="866.6" cy="1311.5" r="4.9"/><circle cx="867.9" cy="1313.1" r="4.9"/><circle cx="869.4" cy="1240.8" r="4.9"/><circle cx="869.9" cy="1246.7" r="4.9"/><circle cx="870.8" cy="1251.4" r="4.9"/><circle cx="870.6" cy="1258.9" r="4.9"/><circle cx="870.7" cy="1260.7" r="4.9"/><circle cx="870.3" cy="1262.5" r="4.9"/><circle cx="871.3" cy="1264.1" r="4.9"/><circle cx="871.9" cy="1268.5" r="4.9"/><circle cx="869.3" cy="1270.8" r="4.9"/><circle cx="871.9" cy="1277.2" r="4.9"/><circle cx="869.8" cy="1277.5" r="4.9"/><circle cx="869.5" cy="1277.5" r="4.9"/><circle cx="869.0" cy="1280.7" r="4.9"/><circle cx="871.5" cy="1283.1" r="4.9"/><circle cx="871.6" cy="1284.6" r="4.9"/><circle cx="870.0" cy="1287.1" r="4.9"/><circle cx="870.0" cy="1287.2" r="4.9"/><circle cx="869.4" cy="1293.5" r="4.9"/><circle cx="871.7" cy="1304.6" r="4.9"/><circle cx="872.0" cy="1303.3" r="4.9"/><circle cx="871.4" cy="1302.8" r="4.9"/><circle cx="871.4" cy="1307.2" r="4.9"/><circle cx="869.7" cy="1305.3" r="4.9"/><circle cx="871.8" cy="1306.7" r="4.9"/><circle cx="871.6" cy="1308.4" r="4.9"/><circle cx="870.4" cy="1313.4" r="4.9"/><circle cx="870.4" cy="1311.6" r="4.9"/><circle cx="869.8" cy="1316.2" r="4.9"/><circle cx="871.5" cy="1314.7" r="4.9"/><circle cx="871.1" cy="1315.2" r="4.9"/><circle cx="873.1" cy="1249.5" r="4.9"/><circle cx="873.5" cy="1248.1" r="4.9"/><circle cx="874.3" cy="1250.2" r="4.9"/><circle cx="873.1" cy="1251.6" r="4.9"/><circle cx="873.0" cy="1253.2" r="4.9"/><circle cx="873.2" cy="1255.6" r="4.9"/><circle cx="873.4" cy="1261.5" r="4.9"/><circle cx="874.4" cy="1260.6" r="4.9"/><circle cx="873.1" cy="1265.4" r="4.9"/><circle cx="873.4" cy="1273.1" r="4.9"/><circle cx="872.7" cy="1276.3" r="4.9"/><circle cx="872.8" cy="1283.5" r="4.9"/><circle cx="873.7" cy="1282.8" r="4.9"/><circle cx="872.4" cy="1286.3" r="4.9"/><circle cx="874.4" cy="1292.0" r="4.9"/><circle cx="874.4" cy="1291.3" r="4.9"/><circle cx="874.9" cy="1293.6" r="4.9"/><circle cx="873.5" cy="1299.4" r="4.9"/><circle cx="873.2" cy="1305.4" r="4.9"/><circle cx="872.5" cy="1306.7" r="4.9"/><circle cx="873.6" cy="1312.3" r="4.9"/><circle cx="874.5" cy="1314.1" r="4.9"/><circle cx="875.6" cy="1242.1" r="4.9"/><circle cx="877.3" cy="1243.7" r="4.9"/><circle cx="875.9" cy="1253.2" r="4.9"/><circle cx="875.7" cy="1252.7" r="4.9"/><circle cx="876.1" cy="1255.4" r="4.9"/><circle cx="877.1" cy="1260.5" r="4.9"/><circle cx="877.2" cy="1263.3" r="4.9"/><circle cx="877.6" cy="1266.2" r="4.9"/><circle cx="875.7" cy="1266.3" r="4.9"/><circle cx="875.8" cy="1275.9" r="4.9"/><circle cx="876.1" cy="1280.4" r="4.9"/><circle cx="875.3" cy="1281.7" r="4.9"/><circle cx="877.3" cy="1296.0" r="4.9"/><circle cx="876.2" cy="1304.8" r="4.9"/><circle cx="876.2" cy="1302.9" r="4.9"/><circle cx="876.5" cy="1309.3" r="4.9"/><circle cx="876.3" cy="1310.3" r="4.9"/><circle cx="877.5" cy="1309.4" r="4.9"/><circle cx="877.7" cy="1315.2" r="4.9"/><circle cx="879.7" cy="1243.4" r="4.9"/><circle cx="880.6" cy="1251.2" r="4.9"/><circle cx="880.6" cy="1256.9" r="4.9"/><circle cx="879.9" cy="1262.5" r="4.9"/><circle cx="878.4" cy="1263.9" r="4.9"/><circle cx="880.2" cy="1266.6" r="4.9"/><circle cx="880.0" cy="1271.0" r="4.9"/><circle cx="879.0" cy="1276.8" r="4.9"/><circle cx="878.9" cy="1286.4" r="4.9"/><circle cx="880.4" cy="1290.3" r="4.9"/><circle cx="878.2" cy="1295.8" r="4.9"/><circle cx="879.1" cy="1299.5" r="4.9"/><circle cx="879.5" cy="1303.2" r="4.9"/><circle cx="878.9" cy="1310.9" r="4.9"/><circle cx="879.3" cy="1311.7" r="4.9"/><circle cx="879.0" cy="1315.9" r="4.9"/><circle cx="880.5" cy="1315.2" r="4.9"/><circle cx="880.3" cy="1314.8" r="4.9"/><circle cx="878.3" cy="1314.1" r="4.9"/><circle cx="881.6" cy="1246.3" r="4.9"/><circle cx="881.8" cy="1248.5" r="4.9"/><circle cx="882.6" cy="1249.3" r="4.9"/><circle cx="883.7" cy="1251.7" r="4.9"/><circle cx="882.7" cy="1252.2" r="4.9"/><circle cx="881.1" cy="1252.3" r="4.9"/><circle cx="881.9" cy="1255.8" r="4.9"/><circle cx="883.1" cy="1254.2" r="4.9"/><circle cx="881.3" cy="1257.9" r="4.9"/><circle cx="883.1" cy="1257.1" r="4.9"/><circle cx="882.1" cy="1257.4" r="4.9"/><circle cx="881.0" cy="1260.5" r="4.9"/><circle cx="881.4" cy="1277.5" r="4.9"/><circle cx="881.8" cy="1278.7" r="4.9"/><circle cx="881.1" cy="1283.2" r="4.9"/><circle cx="881.3" cy="1283.8" r="4.9"/><circle cx="882.8" cy="1286.6" r="4.9"/><circle cx="882.8" cy="1295.2" r="4.9"/><circle cx="881.6" cy="1300.3" r="4.9"/><circle cx="881.9" cy="1305.8" r="4.9"/><circle cx="881.3" cy="1310.4" r="4.9"/><circle cx="881.7" cy="1311.3" r="4.9"/><circle cx="882.5" cy="1316.2" r="4.9"/><circle cx="884.8" cy="1253.9" r="4.9"/><circle cx="886.7" cy="1254.0" r="4.9"/><circle cx="884.8" cy="1256.4" r="4.9"/><circle cx="885.8" cy="1254.6" r="4.9"/><circle cx="887.0" cy="1255.9" r="4.9"/><circle cx="885.7" cy="1257.2" r="4.9"/><circle cx="886.6" cy="1257.5" r="4.9"/><circle cx="884.6" cy="1264.4" r="4.9"/><circle cx="884.3" cy="1268.0" r="4.9"/><circle cx="885.9" cy="1274.1" r="4.9"/><circle cx="885.2" cy="1282.3" r="4.9"/><circle cx="885.1" cy="1283.1" r="4.9"/><circle cx="886.2" cy="1283.0" r="4.9"/><circle cx="885.7" cy="1285.5" r="4.9"/><circle cx="886.9" cy="1292.3" r="4.9"/><circle cx="887.0" cy="1291.4" r="4.9"/><circle cx="886.5" cy="1290.7" r="4.9"/><circle cx="886.1" cy="1295.8" r="4.9"/><circle cx="886.5" cy="1295.6" r="4.9"/><circle cx="885.4" cy="1299.9" r="4.9"/><circle cx="885.1" cy="1301.4" r="4.9"/><circle cx="886.5" cy="1304.0" r="4.9"/><circle cx="884.5" cy="1302.5" r="4.9"/><circle cx="884.6" cy="1306.0" r="4.9"/><circle cx="884.7" cy="1316.5" r="4.9"/><circle cx="885.0" cy="1316.5" r="4.9"/><circle cx="887.0" cy="1255.3" r="4.9"/><circle cx="887.0" cy="1259.6" r="4.9"/><circle cx="887.0" cy="1262.9" r="4.9"/><circle cx="888.7" cy="1276.5" r="4.9"/><circle cx="888.1" cy="1287.0" r="4.9"/><circle cx="889.7" cy="1284.4" r="4.9"/><circle cx="889.5" cy="1284.1" r="4.9"/><circle cx="889.4" cy="1289.1" r="4.9"/><circle cx="889.4" cy="1290.5" r="4.9"/><circle cx="887.8" cy="1294.2" r="4.9"/><circle cx="888.7" cy="1301.3" r="4.9"/><circle cx="888.8" cy="1304.8" r="4.9"/><circle cx="888.7" cy="1306.0" r="4.9"/><circle cx="889.8" cy="1306.1" r="4.9"/><circle cx="889.1" cy="1313.8" r="4.9"/><circle cx="889.0" cy="1316.8" r="4.9"/><circle cx="889.3" cy="1315.3" r="4.9"/><circle cx="891.0" cy="1254.3" r="4.9"/><circle cx="892.4" cy="1257.7" r="4.9"/><circle cx="892.7" cy="1260.4" r="4.9"/><circle cx="893.0" cy="1273.3" r="4.9"/><circle cx="892.4" cy="1273.9" r="4.9"/><circle cx="890.5" cy="1278.2" r="4.9"/><circle cx="891.4" cy="1278.1" r="4.9"/><circle cx="891.2" cy="1289.5" r="4.9"/><circle cx="892.3" cy="1288.8" r="4.9"/><circle cx="891.5" cy="1303.0" r="4.9"/><circle cx="893.0" cy="1305.6" r="4.9"/><circle cx="895.1" cy="1262.9" r="4.9"/><circle cx="894.8" cy="1264.7" r="4.9"/><circle cx="893.2" cy="1276.6" r="4.9"/><circle cx="895.4" cy="1291.8" r="4.9"/><circle cx="895.6" cy="1299.0" r="4.9"/><circle cx="893.1" cy="1301.6" r="4.9"/><circle cx="893.8" cy="1304.8" r="4.9"/><circle cx="895.7" cy="1305.7" r="4.9"/><circle cx="894.1" cy="1308.9" r="4.9"/><circle cx="894.8" cy="1312.0" r="4.9"/><circle cx="895.8" cy="1315.7" r="4.9"/><circle cx="897.7" cy="1257.0" r="4.9"/><circle cx="898.2" cy="1265.9" r="4.9"/><circle cx="897.4" cy="1267.9" r="4.9"/><circle cx="898.1" cy="1271.8" r="4.9"/><circle cx="896.2" cy="1280.4" r="4.9"/><circle cx="896.1" cy="1279.9" r="4.9"/><circle cx="896.7" cy="1282.1" r="4.9"/><circle cx="897.6" cy="1288.8" r="4.9"/><circle cx="898.9" cy="1295.3" r="4.9"/><circle cx="896.7" cy="1297.5" r="4.9"/><circle cx="897.2" cy="1297.0" r="4.9"/><circle cx="896.5" cy="1300.7" r="4.9"/><circle cx="898.8" cy="1302.1" r="4.9"/><circle cx="896.5" cy="1313.5" r="4.9"/><circle cx="897.2" cy="1312.6" r="4.9"/><circle cx="898.8" cy="1311.2" r="4.9"/><circle cx="899.4" cy="1271.4" r="4.9"/><circle cx="901.5" cy="1278.7" r="4.9"/><circle cx="901.4" cy="1281.7" r="4.9"/><circle cx="899.0" cy="1283.6" r="4.9"/><circle cx="899.3" cy="1286.3" r="4.9"/><circle cx="900.9" cy="1289.5" r="4.9"/><circle cx="900.0" cy="1292.5" r="4.9"/><circle cx="901.8" cy="1290.9" r="4.9"/><circle cx="901.1" cy="1292.1" r="4.9"/><circle cx="900.7" cy="1293.8" r="4.9"/><circle cx="899.4" cy="1301.6" r="4.9"/><circle cx="899.7" cy="1304.1" r="4.9"/><circle cx="901.0" cy="1302.4" r="4.9"/><circle cx="901.3" cy="1305.9" r="4.9"/><circle cx="900.4" cy="1316.4" r="4.9"/><circle cx="899.5" cy="1314.3" r="4.9"/><circle cx="902.5" cy="1260.2" r="4.9"/><circle cx="904.6" cy="1279.2" r="4.9"/><circle cx="904.1" cy="1295.4" r="4.9"/><circle cx="904.1" cy="1296.4" r="4.9"/><circle cx="902.6" cy="1309.0" r="4.9"/><circle cx="903.9" cy="1315.4" r="4.9"/><circle cx="903.1" cy="1316.8" r="4.9"/><circle cx="906.3" cy="1258.7" r="4.9"/><circle cx="905.8" cy="1260.8" r="4.9"/><circle cx="906.4" cy="1279.1" r="4.9"/><circle cx="907.5" cy="1280.7" r="4.9"/><circle cx="907.2" cy="1289.8" r="4.9"/><circle cx="905.9" cy="1291.5" r="4.9"/><circle cx="907.7" cy="1304.8" r="4.9"/><circle cx="906.4" cy="1304.9" r="4.9"/><circle cx="906.9" cy="1310.6" r="4.9"/><circle cx="906.2" cy="1311.0" r="4.9"/><circle cx="907.5" cy="1315.1" r="4.9"/><circle cx="907.5" cy="1314.6" r="4.9"/><circle cx="910.2" cy="1269.3" r="4.9"/><circle cx="908.7" cy="1273.1" r="4.9"/><circle cx="909.2" cy="1273.7" r="4.9"/><circle cx="910.8" cy="1276.9" r="4.9"/><circle cx="909.3" cy="1292.9" r="4.9"/><circle cx="909.8" cy="1306.6" r="4.9"/><circle cx="909.3" cy="1305.8" r="4.9"/><circle cx="909.3" cy="1313.9" r="4.9"/><circle cx="908.6" cy="1314.2" r="4.9"/><circle cx="911.7" cy="1268.3" r="4.9"/><circle cx="913.1" cy="1285.1" r="4.9"/><circle cx="913.5" cy="1287.9" r="4.9"/><circle cx="911.2" cy="1288.7" r="4.9"/><circle cx="911.7" cy="1290.1" r="4.9"/><circle cx="912.9" cy="1299.8" r="4.9"/><circle cx="912.4" cy="1316.1" r="4.9"/><circle cx="912.0" cy="1316.4" r="4.9"/><circle cx="916.0" cy="1273.6" r="4.9"/><circle cx="914.0" cy="1288.3" r="4.9"/><circle cx="916.3" cy="1292.2" r="4.9"/><circle cx="914.9" cy="1290.7" r="4.9"/><circle cx="914.9" cy="1295.2" r="4.9"/><circle cx="915.7" cy="1301.4" r="4.9"/><circle cx="915.1" cy="1305.0" r="4.9"/><circle cx="914.0" cy="1304.6" r="4.9"/><circle cx="914.1" cy="1303.6" r="4.9"/><circle cx="914.9" cy="1308.6" r="4.9"/><circle cx="915.7" cy="1313.3" r="4.9"/><circle cx="915.5" cy="1311.1" r="4.9"/><circle cx="914.7" cy="1315.4" r="4.9"/><circle cx="914.0" cy="1314.8" r="4.9"/><circle cx="918.7" cy="1302.5" r="4.9"/><circle cx="917.4" cy="1307.3" r="4.9"/><circle cx="922.8" cy="1263.9" r="4.9"/><circle cx="922.9" cy="1278.0" r="4.9"/><circle cx="920.1" cy="1295.5" r="4.9"/><circle cx="920.9" cy="1293.0" r="4.9"/><circle cx="920.8" cy="1296.6" r="4.9"/><circle cx="920.4" cy="1297.1" r="4.9"/><circle cx="921.3" cy="1308.9" r="4.9"/><circle cx="922.3" cy="1313.2" r="4.9"/><circle cx="925.4" cy="1258.7" r="4.9"/><circle cx="924.8" cy="1269.3" r="4.9"/><circle cx="925.7" cy="1272.1" r="4.9"/><circle cx="924.1" cy="1285.5" r="4.9"/><circle cx="924.3" cy="1295.9" r="4.9"/><circle cx="923.1" cy="1299.8" r="4.9"/><circle cx="923.5" cy="1310.4" r="4.9"/><circle cx="925.6" cy="1314.4" r="4.9"/><circle cx="927.0" cy="1267.2" r="4.9"/><circle cx="927.0" cy="1271.9" r="4.9"/><circle cx="926.6" cy="1273.6" r="4.9"/><circle cx="926.4" cy="1277.5" r="4.9"/><circle cx="926.3" cy="1292.4" r="4.9"/><circle cx="927.0" cy="1295.1" r="4.9"/><circle cx="926.1" cy="1301.8" r="4.9"/><circle cx="927.4" cy="1307.4" r="4.9"/><circle cx="926.1" cy="1312.5" r="4.9"/><circle cx="931.0" cy="1258.3" r="4.9"/><circle cx="931.8" cy="1262.9" r="4.9"/><circle cx="930.3" cy="1279.8" r="4.9"/><circle cx="929.8" cy="1290.1" r="4.9"/><circle cx="931.2" cy="1296.6" r="4.9"/><circle cx="929.4" cy="1298.7" r="4.9"/><circle cx="931.0" cy="1297.7" r="4.9"/><circle cx="929.0" cy="1306.3" r="4.9"/><circle cx="929.2" cy="1308.0" r="4.9"/><circle cx="931.5" cy="1313.2" r="4.9"/><circle cx="929.1" cy="1313.1" r="4.9"/><circle cx="930.5" cy="1312.5" r="4.9"/><circle cx="933.3" cy="1266.8" r="4.9"/><circle cx="933.5" cy="1282.5" r="4.9"/><circle cx="932.6" cy="1284.0" r="4.9"/><circle cx="933.0" cy="1284.9" r="4.9"/><circle cx="933.5" cy="1298.6" r="4.9"/><circle cx="934.1" cy="1298.2" r="4.9"/><circle cx="932.9" cy="1301.2" r="4.9"/><circle cx="933.8" cy="1307.3" r="4.9"/><circle cx="934.4" cy="1316.9" r="4.9"/><circle cx="932.4" cy="1314.6" r="4.9"/><circle cx="936.9" cy="1283.0" r="4.9"/><circle cx="936.1" cy="1309.2" r="4.9"/><circle cx="936.1" cy="1313.9" r="4.9"/><circle cx="940.8" cy="1284.9" r="4.9"/><circle cx="940.5" cy="1296.7" r="4.9"/><circle cx="940.4" cy="1303.4" r="4.9"/><circle cx="940.6" cy="1313.6" r="4.9"/><circle cx="938.3" cy="1312.8" r="4.9"/><circle cx="940.1" cy="1315.4" r="4.9"/><circle cx="938.4" cy="1314.2" r="4.9"/><circle cx="940.2" cy="1314.2" r="4.9"/><circle cx="943.8" cy="1270.8" r="4.9"/><circle cx="943.2" cy="1284.4" r="4.9"/><circle cx="941.5" cy="1304.2" r="4.9"/><circle cx="943.9" cy="1309.0" r="4.9"/><circle cx="942.8" cy="1308.3" r="4.9"/><circle cx="942.9" cy="1312.9" r="4.9"/><circle cx="945.5" cy="1278.8" r="4.9"/><circle cx="944.5" cy="1299.6" r="4.9"/><circle cx="945.2" cy="1315.4" r="4.9"/><circle cx="948.3" cy="1268.8" r="4.9"/><circle cx="948.6" cy="1274.0" r="4.9"/><circle cx="948.1" cy="1286.1" r="4.9"/><circle cx="947.0" cy="1307.1" r="4.9"/><circle cx="952.0" cy="1293.3" r="4.9"/><circle cx="951.8" cy="1309.3" r="4.9"/><circle cx="952.3" cy="1315.0" r="4.9"/><circle cx="950.1" cy="1316.9" r="4.9"/><circle cx="950.8" cy="1316.5" r="4.9"/><circle cx="953.9" cy="1269.3" r="4.9"/><circle cx="954.9" cy="1280.0" r="4.9"/><circle cx="953.1" cy="1291.8" r="4.9"/><circle cx="953.7" cy="1302.5" r="4.9"/><circle cx="953.5" cy="1313.6" r="4.9"/><circle cx="957.4" cy="1278.1" r="4.9"/><circle cx="956.3" cy="1310.1" r="4.9"/><circle cx="957.2" cy="1311.5" r="4.9"/><circle cx="957.0" cy="1314.4" r="4.9"/><circle cx="961.6" cy="1292.8" r="4.9"/><circle cx="960.0" cy="1315.2" r="4.9"/><circle cx="960.6" cy="1314.3" r="4.9"/><circle cx="964.2" cy="1313.6" r="4.9"/><circle cx="965.1" cy="1301.4" r="4.9"/><circle cx="968.3" cy="1269.4" r="4.9"/><circle cx="968.2" cy="1284.0" r="4.9"/><circle cx="973.3" cy="1277.0" r="4.9"/><circle cx="971.0" cy="1313.7" r="4.9"/><circle cx="972.5" cy="1316.5" r="4.9"/><circle cx="997.1" cy="1313.5" r="4.9"/><circle cx="998.0" cy="1315.9" r="4.9"/><circle cx="1003.5" cy="1309.7" r="4.9"/><circle cx="1002.3" cy="1308.9" r="4.9"/><circle cx="1002.8" cy="1309.0" r="4.9"/><circle cx="1003.9" cy="1313.2" r="4.9"/><circle cx="1003.5" cy="1311.2" r="4.9"/><circle cx="1001.4" cy="1312.0" r="4.9"/><circle cx="1001.4" cy="1312.3" r="4.9"/><circle cx="1003.5" cy="1316.9" r="4.9"/><circle cx="1001.7" cy="1314.7" r="4.9"/><circle cx="1001.1" cy="1314.8" r="4.9"/><circle cx="1001.2" cy="1315.6" r="4.9"/><circle cx="1006.1" cy="1310.1" r="4.9"/><circle cx="1005.4" cy="1309.4" r="4.9"/><circle cx="1009.6" cy="1307.4" r="4.9"/><circle cx="1007.5" cy="1308.8" r="4.9"/><circle cx="1010.0" cy="1311.3" r="4.9"/><circle cx="1007.0" cy="1312.1" r="4.9"/><circle cx="1008.8" cy="1314.3" r="4.9"/><circle cx="1011.8" cy="1313.5" r="4.9"/><circle cx="1010.2" cy="1312.6" r="4.9"/><circle cx="1012.2" cy="1314.0" r="4.9"/><circle cx="1010.3" cy="1315.1" r="4.9"/><circle cx="1013.0" cy="1315.6" r="4.9"/><circle cx="1012.9" cy="1314.8" r="4.9"/><circle cx="1013.8" cy="1297.7" r="4.9"/><circle cx="1015.8" cy="1307.6" r="4.9"/><circle cx="1013.1" cy="1312.2" r="4.9"/><circle cx="1015.8" cy="1311.8" r="4.9"/><circle cx="1014.7" cy="1314.7" r="4.9"/><circle cx="1017.0" cy="1308.4" r="4.9"/><circle cx="1018.4" cy="1315.4" r="4.9"/><circle cx="1018.4" cy="1316.9" r="4.9"/><circle cx="1018.8" cy="1315.6" r="4.9"/><circle cx="1016.8" cy="1315.6" r="4.9"/><circle cx="1018.9" cy="1316.2" r="4.9"/><circle cx="1019.6" cy="1304.6" r="4.9"/><circle cx="1020.7" cy="1308.4" r="4.9"/><circle cx="1020.3" cy="1311.6" r="4.9"/><circle cx="1020.2" cy="1312.8" r="4.9"/><circle cx="1020.3" cy="1311.0" r="4.9"/><circle cx="1024.6" cy="1302.5" r="4.9"/><circle cx="1023.8" cy="1309.1" r="4.9"/><circle cx="1022.1" cy="1309.3" r="4.9"/><circle cx="1024.9" cy="1314.6" r="4.9"/><circle cx="1026.0" cy="1305.9" r="4.9"/><circle cx="1026.4" cy="1305.5" r="4.9"/><circle cx="1027.1" cy="1309.0" r="4.9"/><circle cx="1025.6" cy="1311.3" r="4.9"/><circle cx="1026.9" cy="1312.4" r="4.9"/><circle cx="1025.3" cy="1316.2" r="4.9"/><circle cx="1027.0" cy="1315.1" r="4.9"/><circle cx="1025.4" cy="1315.8" r="4.9"/><circle cx="1029.6" cy="1313.7" r="4.9"/><circle cx="1029.7" cy="1315.0" r="4.9"/><circle cx="1028.7" cy="1315.9" r="4.9"/><circle cx="1030.2" cy="1314.7" r="4.9"/><circle cx="1030.1" cy="1317.0" r="4.9"/><circle cx="1029.2" cy="1316.8" r="4.9"/><circle cx="1031.2" cy="1305.9" r="4.9"/><circle cx="1032.4" cy="1307.2" r="4.9"/><circle cx="1033.8" cy="1310.0" r="4.9"/><circle cx="1035.2" cy="1310.9" r="4.9"/><circle cx="1035.1" cy="1309.9" r="4.9"/><circle cx="1034.8" cy="1313.3" r="4.9"/><circle cx="1039.4" cy="1308.3" r="4.9"/><circle cx="1038.2" cy="1312.6" r="4.9"/><circle cx="1038.3" cy="1312.3" r="4.9"/><circle cx="1039.8" cy="1316.8" r="4.9"/><circle cx="1039.2" cy="1316.1" r="4.9"/><circle cx="1037.4" cy="1314.1" r="4.9"/><circle cx="1039.5" cy="1316.0" r="4.9"/><circle cx="1041.0" cy="1308.2" r="4.9"/><circle cx="1042.7" cy="1313.4" r="4.9"/><circle cx="1040.0" cy="1312.3" r="4.9"/><circle cx="1040.3" cy="1313.2" r="4.9"/><circle cx="1042.4" cy="1313.4" r="4.9"/><circle cx="1040.4" cy="1314.0" r="4.9"/><circle cx="1040.3" cy="1316.5" r="4.9"/><circle cx="1044.2" cy="1310.3" r="4.9"/><circle cx="1045.4" cy="1309.7" r="4.9"/><circle cx="1046.0" cy="1310.3" r="4.9"/><circle cx="1045.8" cy="1310.9" r="4.9"/><circle cx="1043.7" cy="1315.0" r="4.9"/><circle cx="1044.0" cy="1317.0" r="4.9"/><circle cx="1047.5" cy="1298.1" r="4.9"/><circle cx="1047.6" cy="1298.3" r="4.9"/><circle cx="1048.1" cy="1307.7" r="4.9"/><circle cx="1048.2" cy="1312.7" r="4.9"/><circle cx="1047.2" cy="1312.7" r="4.9"/><circle cx="1050.8" cy="1302.6" r="4.9"/><circle cx="1050.9" cy="1308.7" r="4.9"/><circle cx="1050.7" cy="1309.2" r="4.9"/><circle cx="1052.5" cy="1293.8" r="4.9"/><circle cx="1054.7" cy="1309.7" r="4.9"/><circle cx="1053.8" cy="1313.4" r="4.9"/><circle cx="1052.0" cy="1316.9" r="4.9"/><circle cx="1055.0" cy="1308.8" r="4.9"/><circle cx="1055.6" cy="1311.0" r="4.9"/><circle cx="1060.2" cy="1306.5" r="4.9"/><circle cx="1059.4" cy="1314.6" r="4.9"/><circle cx="1060.5" cy="1316.7" r="4.9"/><circle cx="1062.9" cy="1309.1" r="4.9"/><circle cx="1064.5" cy="1300.0" r="4.9"/><circle cx="1066.5" cy="1307.5" r="4.9"/><circle cx="1066.8" cy="1308.8" r="4.9"/><circle cx="1066.0" cy="1311.7" r="4.9"/><circle cx="1064.3" cy="1316.4" r="4.9"/><circle cx="1069.3" cy="1302.6" r="4.9"/><circle cx="1071.8" cy="1314.2" r="4.9"/><circle cx="1074.2" cy="1300.3" r="4.9"/><circle cx="1076.0" cy="1307.3" r="4.9"/><circle cx="1075.2" cy="1309.9" r="4.9"/><circle cx="1075.9" cy="1313.3" r="4.9"/><circle cx="1073.6" cy="1312.7" r="4.9"/><circle cx="1074.3" cy="1311.7" r="4.9"/><circle cx="1073.7" cy="1316.1" r="4.9"/><circle cx="1074.5" cy="1315.3" r="4.9"/><circle cx="1079.0" cy="1292.4" r="4.9"/><circle cx="1077.3" cy="1303.1" r="4.9"/><circle cx="1077.6" cy="1308.9" r="4.9"/><circle cx="1076.2" cy="1314.5" r="4.9"/><circle cx="1079.8" cy="1309.1" r="4.9"/><circle cx="1080.0" cy="1310.2" r="4.9"/><circle cx="1080.5" cy="1310.4" r="4.9"/><circle cx="1083.3" cy="1297.7" r="4.9"/><circle cx="1084.9" cy="1297.9" r="4.9"/><circle cx="1083.0" cy="1302.1" r="4.9"/><circle cx="1083.6" cy="1306.7" r="4.9"/><circle cx="1083.1" cy="1312.9" r="4.9"/><circle cx="1082.9" cy="1313.8" r="4.9"/><circle cx="1082.8" cy="1316.7" r="4.9"/><circle cx="1085.3" cy="1293.6" r="4.9"/><circle cx="1085.2" cy="1297.2" r="4.9"/><circle cx="1087.1" cy="1301.4" r="4.9"/><circle cx="1086.1" cy="1307.4" r="4.9"/><circle cx="1087.7" cy="1309.4" r="4.9"/><circle cx="1088.5" cy="1300.4" r="4.9"/><circle cx="1090.2" cy="1312.5" r="4.9"/><circle cx="1089.8" cy="1313.6" r="4.9"/><circle cx="1090.9" cy="1312.8" r="4.9"/><circle cx="1092.6" cy="1308.9" r="4.9"/><circle cx="1093.5" cy="1310.8" r="4.9"/><circle cx="1094.0" cy="1311.2" r="4.9"/><circle cx="1092.2" cy="1312.3" r="4.9"/><circle cx="1091.8" cy="1313.2" r="4.9"/><circle cx="1091.4" cy="1315.5" r="4.9"/><circle cx="1093.9" cy="1316.7" r="4.9"/><circle cx="1092.4" cy="1314.3" r="4.9"/><circle cx="1094.0" cy="1297.8" r="4.9"/><circle cx="1094.3" cy="1298.3" r="4.9"/><circle cx="1094.7" cy="1304.6" r="4.9"/><circle cx="1098.1" cy="1286.2" r="4.9"/><circle cx="1099.1" cy="1308.4" r="4.9"/><circle cx="1097.3" cy="1308.2" r="4.9"/><circle cx="1099.9" cy="1316.9" r="4.9"/><circle cx="1101.8" cy="1296.4" r="4.9"/><circle cx="1100.6" cy="1296.4" r="4.9"/><circle cx="1100.0" cy="1305.0" r="4.9"/><circle cx="1100.8" cy="1308.8" r="4.9"/><circle cx="1102.6" cy="1308.3" r="4.9"/><circle cx="1102.4" cy="1310.7" r="4.9"/><circle cx="1101.8" cy="1311.0" r="4.9"/><circle cx="1101.8" cy="1316.3" r="4.9"/><circle cx="1104.6" cy="1303.1" r="4.9"/><circle cx="1104.7" cy="1305.7" r="4.9"/><circle cx="1104.7" cy="1307.6" r="4.9"/><circle cx="1104.3" cy="1309.7" r="4.9"/><circle cx="1104.9" cy="1311.5" r="4.9"/><circle cx="1104.7" cy="1312.0" r="4.9"/><circle cx="1104.4" cy="1313.1" r="4.9"/><circle cx="1103.1" cy="1312.5" r="4.9"/><circle cx="1107.5" cy="1309.1" r="4.9"/><circle cx="1106.8" cy="1310.5" r="4.9"/><circle cx="1108.8" cy="1311.7" r="4.9"/><circle cx="1106.2" cy="1312.9" r="4.9"/><circle cx="1106.1" cy="1313.6" r="4.9"/><circle cx="1107.0" cy="1315.3" r="4.9"/><circle cx="1110.7" cy="1313.8" r="4.9"/><circle cx="1111.8" cy="1315.4" r="4.9"/><circle cx="1113.5" cy="1290.0" r="4.9"/><circle cx="1114.3" cy="1308.3" r="4.9"/><circle cx="1112.1" cy="1310.1" r="4.9"/><circle cx="1113.8" cy="1310.0" r="4.9"/><circle cx="1112.1" cy="1312.4" r="4.9"/><circle cx="1113.8" cy="1314.1" r="4.9"/><circle cx="1112.4" cy="1316.7" r="4.9"/><circle cx="1117.6" cy="1288.9" r="4.9"/><circle cx="1115.3" cy="1291.4" r="4.9"/><circle cx="1116.0" cy="1293.4" r="4.9"/><circle cx="1117.1" cy="1296.0" r="4.9"/><circle cx="1116.9" cy="1307.6" r="4.9"/><circle cx="1120.3" cy="1305.2" r="4.9"/><circle cx="804.7" cy="1242.1" r="4.9"/><circle cx="804.5" cy="1242.0" r="4.9"/><circle cx="832.4" cy="1242.4" r="4.9"/><circle cx="832.6" cy="1243.0" r="4.9"/><circle cx="805.9" cy="1245.3" r="4.9"/><circle cx="806.0" cy="1244.2" r="4.9"/><circle cx="833.5" cy="1244.9" r="4.9"/><circle cx="832.9" cy="1244.1" r="4.9"/><circle cx="806.5" cy="1247.4" r="4.9"/><circle cx="807.0" cy="1246.3" r="4.9"/><circle cx="832.6" cy="1247.3" r="4.9"/><circle cx="831.6" cy="1246.5" r="4.9"/><circle cx="805.5" cy="1249.0" r="4.9"/><circle cx="806.0" cy="1249.1" r="4.9"/><circle cx="831.3" cy="1249.5" r="4.9"/><circle cx="833.2" cy="1250.1" r="4.9"/><circle cx="808.2" cy="1252.4" r="4.9"/><circle cx="806.7" cy="1252.0" r="4.9"/><circle cx="832.4" cy="1252.0" r="4.9"/><circle cx="831.2" cy="1252.4" r="4.9"/><circle cx="808.3" cy="1254.1" r="4.9"/><circle cx="806.5" cy="1254.6" r="4.9"/><circle cx="831.6" cy="1254.9" r="4.9"/><circle cx="831.6" cy="1254.3" r="4.9"/><circle cx="807.6" cy="1256.0" r="4.9"/><circle cx="808.1" cy="1256.1" r="4.9"/><circle cx="832.5" cy="1257.8" r="4.9"/><circle cx="831.6" cy="1256.3" r="4.9"/><circle cx="807.2" cy="1259.1" r="4.9"/><circle cx="807.4" cy="1259.8" r="4.9"/><circle cx="831.1" cy="1260.0" r="4.9"/><circle cx="830.3" cy="1260.2" r="4.9"/><circle cx="808.4" cy="1262.5" r="4.9"/><circle cx="807.6" cy="1261.5" r="4.9"/><circle cx="830.3" cy="1261.7" r="4.9"/><circle cx="829.5" cy="1262.8" r="4.9"/><circle cx="808.4" cy="1264.5" r="4.9"/><circle cx="808.7" cy="1265.3" r="4.9"/><circle cx="829.1" cy="1264.2" r="4.9"/><circle cx="830.6" cy="1264.6" r="4.9"/><circle cx="809.2" cy="1266.5" r="4.9"/><circle cx="809.9" cy="1267.3" r="4.9"/><circle cx="829.4" cy="1267.9" r="4.9"/><circle cx="830.8" cy="1267.9" r="4.9"/><circle cx="810.1" cy="1269.5" r="4.9"/><circle cx="810.5" cy="1269.2" r="4.9"/><circle cx="828.4" cy="1269.5" r="4.9"/><circle cx="830.6" cy="1270.0" r="4.9"/><circle cx="810.3" cy="1271.6" r="4.9"/><circle cx="808.8" cy="1271.1" r="4.9"/><circle cx="829.9" cy="1272.7" r="4.9"/><circle cx="828.0" cy="1272.9" r="4.9"/><circle cx="809.9" cy="1274.3" r="4.9"/><circle cx="810.5" cy="1274.7" r="4.9"/><circle cx="828.8" cy="1275.2" r="4.9"/><circle cx="829.7" cy="1274.2" r="4.9"/><circle cx="811.9" cy="1277.6" r="4.9"/><circle cx="810.3" cy="1277.3" r="4.9"/><circle cx="827.3" cy="1276.2" r="4.9"/><circle cx="829.4" cy="1276.7" r="4.9"/><circle cx="811.1" cy="1280.4" r="4.9"/><circle cx="811.8" cy="1279.8" r="4.9"/><circle cx="826.9" cy="1279.6" r="4.9"/><circle cx="828.6" cy="1278.8" r="4.9"/><circle cx="810.7" cy="1282.9" r="4.9"/><circle cx="810.5" cy="1282.6" r="4.9"/><circle cx="828.8" cy="1282.4" r="4.9"/><circle cx="827.8" cy="1282.6" r="4.9"/><circle cx="811.0" cy="1284.8" r="4.9"/><circle cx="811.3" cy="1283.9" r="4.9"/><circle cx="826.9" cy="1284.2" r="4.9"/><circle cx="828.2" cy="1285.1" r="4.9"/><circle cx="812.6" cy="1288.0" r="4.9"/><circle cx="813.2" cy="1286.1" r="4.9"/><circle cx="826.5" cy="1286.2" r="4.9"/><circle cx="828.0" cy="1286.7" r="4.9"/><circle cx="812.7" cy="1290.2" r="4.9"/><circle cx="812.4" cy="1289.8" r="4.9"/><circle cx="826.4" cy="1289.4" r="4.9"/><circle cx="827.7" cy="1289.1" r="4.9"/><circle cx="812.7" cy="1292.0" r="4.9"/><circle cx="813.7" cy="1291.3" r="4.9"/><circle cx="826.2" cy="1292.6" r="4.9"/><circle cx="826.0" cy="1291.1" r="4.9"/><circle cx="811.9" cy="1293.8" r="4.9"/><circle cx="812.0" cy="1293.6" r="4.9"/><circle cx="826.4" cy="1293.8" r="4.9"/><circle cx="825.5" cy="1294.3" r="4.9"/></g><rect x="734.5" y="1204.5" width="11" height="5" fill="#fff"/><rect x="925.5" y="1221.8" width="5" height="4.5" fill="#fff"/><g stroke="#151515" stroke-width="3.5" stroke-dasharray="13.1 13.1" fill="none"><line x1="146" y1="1242.8" x2="1478" y2="1242.8" stroke-dashoffset="2.5"/><line x1="759.8" y1="105.1" x2="759.8" y2="1372.5"/><line x1="865.2" y1="105.1" x2="865.2" y2="1372.5"/></g><rect x="146" y="101.5" width="1334" height="1272.5" fill="none" stroke="#151515" stroke-width="3.8"/><g stroke="#1e1e1e" stroke-width="3.2"><line x1="135" y1="1318.0" x2="146" y2="1318.0"/><line x1="135" y1="1031.7" x2="146" y2="1031.7"/><line x1="135" y1="745.4" x2="146" y2="745.4"/><line x1="135" y1="459.1" x2="146" y2="459.1"/><line x1="135" y1="172.8" x2="146" y2="172.8"/><line x1="287.8" y1="1374" x2="287.8" y2="1384"/><line x1="550.0" y1="1374" x2="550.0" y2="1384"/><line x1="812.3" y1="1374" x2="812.3" y2="1384"/><line x1="1074.5" y1="1374" x2="1074.5" y2="1384"/><line x1="1336.8" y1="1374" x2="1336.8" y2="1384"/></g><g font-size="45" fill="#000" stroke="#000" stroke-width="0.5"><text x="130" y="1333.9" text-anchor="end">0</text><text x="130" y="1047.6" text-anchor="end">5</text><text x="130" y="761.3" text-anchor="end">10</text><text x="130" y="475.0" text-anchor="end">15</text><text x="130" y="188.7" text-anchor="end">20</text><text x="287.8" y="1422" text-anchor="middle">-10</text><text x="550.0" y="1422" text-anchor="middle">-5</text><text x="812.3" y="1422" text-anchor="middle">0</text><text x="1074.5" y="1422" text-anchor="middle">5</text><text x="1336.8" y="1422" text-anchor="middle">10</text></g><text x="812.5" y="1475" text-anchor="middle" font-size="50.5" fill="#000" stroke="#000" stroke-width="0.5">log2(fc)</text><text transform="translate(63.5 736.5) rotate(-90)" text-anchor="middle" font-size="50.5" fill="#000" stroke="#000" stroke-width="0.5">-log10(PValue)</text><circle cx="1561.5" cy="628" r="12" fill="#FF746A"/><circle cx="1561.5" cy="681" r="11.2" fill="#000" fill-opacity="0.2" stroke="#000" stroke-opacity="0.2" stroke-width="1.6"/><circle cx="1561.5" cy="734" r="12" fill="#2A9AFF"/><g font-size="37.5" fill="#000" stroke="#000" stroke-width="0.4"><text x="1604" y="641.5">up</text><text x="1604" y="694.3">nosig</text><text x="1604" y="746.8">down</text></g></svg></div>
</body></html>
